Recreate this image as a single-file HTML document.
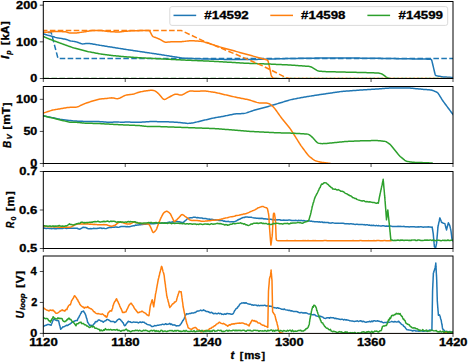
<!DOCTYPE html>
<html><head><meta charset="utf-8"><style>
html,body{margin:0;padding:0;background:#fff;overflow:hidden;}
svg{display:block;}
text{font-family:"Liberation Sans",sans-serif;font-weight:bold;fill:#000;stroke:#000;stroke-width:0.3;}
</style></head><body>
<svg width="468" height="362" viewBox="0 0 468 362">
<rect width="468" height="362" fill="#fff"/>
<defs>
<clipPath id="c0"><rect x="43.3" y="1.5" width="409.7" height="77"/></clipPath>
<clipPath id="c1"><rect x="43.3" y="86.5" width="409.7" height="77"/></clipPath>
<clipPath id="c2"><rect x="43.3" y="171.5" width="409.7" height="77"/></clipPath>
<clipPath id="c3"><rect x="43.3" y="256" width="409.7" height="77.4"/></clipPath>
</defs>
<g clip-path="url(#c0)">
<polyline points="43.5,78.5 453,78.5" fill="none" stroke="#2ca02c" stroke-width="1.5" stroke-linejoin="round" stroke-linecap="butt" stroke-dasharray="5.55 2.4" stroke-dashoffset="0"/>
<polyline points="43.5,32.6 51.2,32.6 58,58.4 453,58.4" fill="none" stroke="#1f77b4" stroke-width="1.5" stroke-linejoin="round" stroke-linecap="butt" stroke-dasharray="5.55 2.4" stroke-dashoffset="3.65"/>
<polyline points="43.5,34 44.43,34.28 45.3,34.55 46.2,34.82 47.12,35.08 48.06,35.3 49.01,35.5 49.97,35.7 50.91,35.91 51.81,36.16 52.67,36.45 53.53,36.75 54.39,37.05 55.29,37.35 56.22,37.63 57.16,37.84 58.09,37.99 59.02,38.12 59.95,38.25 60.87,38.38 61.8,38.52 62.71,38.7 63.62,38.9 64.53,39.1 65.44,39.31 66.34,39.56 67.24,39.84 68.13,40.13 69.02,40.42 69.91,40.7 70.81,40.95 71.73,41.12 72.65,41.25 73.58,41.38 74.51,41.51 75.43,41.66 76.36,41.89 77.27,42.19 78.19,42.52 79.1,42.85 80.01,43.18 80.93,43.5 81.85,43.78 82.8,43.9 83.78,43.84 84.76,43.73 85.75,43.62 86.73,43.52 87.72,43.42 88.7,43.39 89.68,43.48 90.67,43.65 91.65,43.82 92.63,44 93.61,44.17 94.6,44.34 95.58,44.52 96.56,44.69 97.54,44.87 98.53,45.04 99.51,45.21 100.49,45.38 101.48,45.54 102.46,45.69 103.45,45.85 104.43,46.01 105.42,46.17 106.4,46.33 107.38,46.48 108.37,46.64 109.35,46.8 110.34,46.96 111.32,47.11 112.31,47.27 113.29,47.43 114.28,47.59 115.26,47.74 116.25,47.9 117.23,48.06 118.22,48.22 119.2,48.38 120.18,48.53 121.17,48.69 122.15,48.85 123.14,49.01 124.12,49.16 125.11,49.32 126.09,49.47 127.07,49.62 128.06,49.76 129.04,49.91 130.02,50.06 131.01,50.2 131.99,50.35 132.97,50.49 133.95,50.64 134.94,50.78 135.92,50.93 136.9,51.08 137.89,51.22 138.87,51.37 139.85,51.51 140.83,51.66 141.82,51.8 142.8,51.95 143.78,52.1 144.77,52.24 145.75,52.39 146.73,52.53 147.71,52.68 148.7,52.82 149.68,52.97 150.66,53.12 151.65,53.26 152.63,53.41 153.61,53.55 154.59,53.7 155.58,53.84 156.56,53.99 157.54,54.14 158.53,54.28 159.51,54.43 160.49,54.58 161.47,54.74 162.45,54.89 163.43,55.05 164.4,55.21 165.38,55.37 166.36,55.52 167.34,55.68 168.32,55.84 169.3,56 170.28,56.15 171.26,56.31 172.23,56.47 173.21,56.63 174.19,56.78 175.17,56.94 176.15,57.1 177.13,57.26 178.11,57.41 179.09,57.57 180.06,57.73 181.04,57.89 182.02,58.04 183,58.16 183.98,58.23 184.96,58.27 185.93,58.31 186.91,58.34 187.89,58.38 188.87,58.41 189.84,58.45 190.82,58.48 191.8,58.52 192.78,58.56 193.76,58.59 194.73,58.63 195.71,58.66 196.69,58.7 197.67,58.73 198.64,58.77 199.62,58.8 200.6,58.84 201.58,58.88 202.56,58.91 203.53,58.95 204.51,58.98 205.49,59.01 206.46,59.03 207.44,59.05 208.41,59.07 209.39,59.09 210.37,59.11 211.34,59.13 212.32,59.15 213.29,59.17 214.27,59.19 215.24,59.2 216.22,59.22 217.2,59.24 218.17,59.26 219.15,59.28 220.12,59.3 221.1,59.32 222.07,59.34 223.05,59.36 224.02,59.38 225,59.4 225.98,59.41 226.96,59.42 227.94,59.42 228.92,59.43 229.9,59.44 230.88,59.45 231.86,59.45 232.84,59.46 233.82,59.47 234.8,59.48 235.78,59.49 236.76,59.49 237.75,59.5 238.73,59.51 239.71,59.52 240.69,59.53 241.67,59.53 242.65,59.54 243.63,59.55 244.61,59.56 245.59,59.56 246.57,59.57 247.55,59.58 248.53,59.59 249.51,59.59 250.49,59.58 251.46,59.56 252.43,59.53 253.41,59.51 254.38,59.48 255.35,59.45 256.32,59.42 257.3,59.4 258.27,59.37 259.24,59.34 260.22,59.32 261.19,59.29 262.16,59.26 263.14,59.24 264.11,59.21 265.08,59.18 266.05,59.15 267.03,59.13 268,59.1 268.98,59.07 269.96,59.05 270.93,59.02 271.91,58.99 272.89,58.97 273.87,58.94 274.84,58.91 275.82,58.89 276.8,58.86 277.78,58.83 278.76,58.81 279.73,58.78 280.71,58.75 281.69,58.73 282.67,58.7 283.64,58.67 284.62,58.65 285.6,58.62 286.58,58.59 287.56,58.57 288.53,58.54 289.51,58.51 290.49,58.49 291.48,58.48 292.47,58.46 293.46,58.45 294.44,58.43 295.43,58.42 296.42,58.4 297.41,58.39 298.4,58.37 299.38,58.36 300.37,58.34 301.36,58.33 302.35,58.31 303.33,58.3 304.32,58.29 305.31,58.27 306.3,58.26 307.28,58.24 308.27,58.23 309.26,58.21 310.25,58.2 311.23,58.18 312.22,58.17 313.21,58.15 314.2,58.14 315.19,58.12 316.17,58.11 317.16,58.09 318.15,58.08 319.14,58.06 320.12,58.05 321.11,58.03 322.1,58.02 323.09,58 324.07,57.99 325.06,57.97 326.05,57.96 327.04,57.94 328.02,57.93 329.01,57.92 330,57.91 330.99,57.91 331.98,57.91 332.96,57.92 333.95,57.93 334.94,57.94 335.93,57.94 336.91,57.95 337.9,57.96 338.89,57.97 339.88,57.97 340.86,57.98 341.85,57.99 342.84,58 343.83,58 344.81,58.01 345.8,58.02 346.79,58.03 347.78,58.03 348.77,58.04 349.75,58.05 350.74,58.06 351.73,58.06 352.72,58.07 353.7,58.08 354.69,58.09 355.68,58.09 356.67,58.1 357.65,58.11 358.64,58.11 359.63,58.12 360.62,58.13 361.6,58.14 362.59,58.14 363.58,58.15 364.57,58.16 365.56,58.17 366.54,58.17 367.53,58.18 368.52,58.19 369.51,58.2 370.5,58.21 371.49,58.22 372.48,58.24 373.47,58.26 374.46,58.27 375.46,58.29 376.45,58.3 377.44,58.32 378.43,58.34 379.42,58.35 380.42,58.37 381.41,58.39 382.4,58.4 383.39,58.42 384.38,58.43 385.38,58.45 386.37,58.47 387.36,58.48 388.35,58.5 389.34,58.51 390.33,58.53 391.33,58.55 392.32,58.56 393.31,58.58 394.3,58.6 395.29,58.61 396.29,58.63 397.28,58.64 398.27,58.66 399.26,58.68 400.25,58.69 401.25,58.71 402.24,58.72 403.23,58.74 404.22,58.76 405.21,58.77 406.21,58.79 407.2,58.8 408.19,58.82 409.18,58.84 410.17,58.85 411.17,58.87 412.16,58.89 413.15,58.9 414.14,58.92 415.13,58.93 416.13,58.95 417.12,58.97 418.11,58.98 419.1,59 420.09,59.01 421.08,59.03 422.08,59.05 423.07,59.06 424.06,59.08 425.05,59.1 426.04,59.11 427.04,59.13 428.03,59.14 429.02,59.16 430.01,59.18 430.91,59.3 431.53,59.79 431.84,60.65 432.07,61.61 432.3,62.58 432.53,63.54 432.76,64.51 432.99,65.47 433.22,66.44 433.45,67.4 433.68,68.36 433.91,69.33 434.14,70.29 434.37,71.26 434.6,72.22 434.83,73.19 435.06,74.15 435.37,75.02 435.96,75.59 436.83,75.84 437.78,76.01 438.73,76.17 439.68,76.33 440.63,76.49 441.58,76.66 442.53,76.81 443.48,76.92 444.43,76.99 445.38,77.04 446.33,77.1 447.29,77.16 448.24,77.21 449.19,77.27 450.14,77.33 451.1,77.39 452.02,77.44 453,77.5" fill="none" stroke="#1f77b4" stroke-width="1.5" stroke-linejoin="round" stroke-linecap="square"/>
<polyline points="43.5,32.4 44.46,32.33 45.37,32.27 46.3,32.2 47.23,32.13 48.17,32.07 49.1,32 50.04,31.93 50.98,31.85 51.93,31.77 52.89,31.68 53.84,31.59 54.8,31.53 55.77,31.52 56.73,31.53 57.7,31.55 58.66,31.57 59.63,31.59 60.59,31.6 61.56,31.62 62.52,31.64 63.49,31.66 64.45,31.68 65.41,31.73 66.33,31.9 67.21,32.19 68.09,32.51 68.97,32.8 69.9,32.96 70.86,33 71.83,33 72.8,33 73.77,33 74.74,33 75.71,32.98 76.69,32.91 77.66,32.78 78.63,32.64 79.6,32.5 80.58,32.37 81.56,32.25 82.55,32.12 83.53,31.99 84.5,31.86 85.45,31.7 86.38,31.52 87.31,31.34 88.23,31.15 89.15,30.97 90.08,30.79 91.01,30.65 91.95,30.58 92.89,30.56 93.84,30.54 94.79,30.52 95.74,30.49 96.68,30.47 97.63,30.45 98.58,30.43 99.52,30.43 100.46,30.48 101.38,30.59 102.31,30.71 103.23,30.83 104.15,30.95 105.08,31.08 106,31.19 106.92,31.29 107.85,31.38 108.77,31.48 109.69,31.57 110.62,31.66 111.54,31.75 112.47,31.81 113.4,31.84 114.33,31.87 115.27,31.89 116.2,31.92 117.13,31.95 118.07,31.97 119,31.96 119.92,31.89 120.85,31.78 121.77,31.68 122.69,31.57 123.62,31.46 124.54,31.36 125.47,31.27 126.4,31.2 127.33,31.13 128.27,31.07 129.2,31 130.13,30.93 131.07,30.87 132.02,30.81 133,30.78 133.99,30.75 134.98,30.73 135.98,30.71 136.97,30.69 137.97,30.66 138.96,30.64 139.95,30.62 140.95,30.59 141.94,30.57 142.94,30.55 143.93,30.53 144.93,30.5 145.92,30.48 146.91,30.46 147.91,30.44 148.84,30.52 149.57,30.94 150.08,31.71 150.54,32.58 151,33.45 151.46,34.32 151.92,35.19 152.42,36 153.07,36.58 153.87,36.93 154.71,37.22 155.56,37.51 156.42,37.83 157.3,38.2 158.2,38.6 159.1,39 159.98,39.43 160.83,39.89 161.67,40.37 162.5,40.85 163.33,41.33 164.17,41.8 165.04,42.13 165.98,42.21 166.95,42.15 167.93,42.08 168.9,42 169.88,41.93 170.85,41.85 171.82,41.78 172.8,41.73 173.76,41.73 174.72,41.75 175.68,41.78 176.64,41.81 177.6,41.83 178.56,41.86 179.52,41.87 180.49,41.82 181.47,41.72 182.45,41.6 183.44,41.49 184.42,41.37 185.4,41.25 186.38,41.13 187.36,41.01 188.35,40.9 189.33,40.78 190.31,40.68 191.28,40.65 192.24,40.7 193.2,40.77 194.15,40.83 195.11,40.9 196.07,40.97 197.03,41.03 197.99,41.1 198.95,41.17 199.9,41.23 200.86,41.3 201.82,41.39 202.77,41.57 203.72,41.84 204.67,42.14 205.62,42.43 206.56,42.73 207.51,43.02 208.46,43.32 209.41,43.61 210.35,43.91 211.29,44.2 212.21,44.49 213.13,44.79 214.05,45.08 214.96,45.38 215.88,45.67 216.79,45.97 217.71,46.26 218.63,46.56 219.55,46.85 220.48,47.13 221.44,47.4 222.4,47.66 223.35,47.92 224.31,48.19 225.27,48.45 226.23,48.72 227.19,48.98 228.14,49.24 229.1,49.51 230.06,49.77 231.02,50.04 231.98,50.3 232.93,50.56 233.89,50.83 234.85,51.09 235.81,51.36 236.77,51.62 237.72,51.88 238.68,52.15 239.64,52.41 240.6,52.68 241.56,52.94 242.51,53.2 243.47,53.47 244.43,53.73 245.39,54 246.35,54.26 247.3,54.52 248.26,54.79 249.22,55.05 250.18,55.32 251.13,55.58 252.09,55.84 253.05,56.11 254.01,56.37 254.97,56.64 255.93,56.9 256.88,57.16 257.84,57.43 258.8,57.69 259.76,57.96 260.72,58.22 261.67,58.48 262.63,58.75 263.59,59.01 264.55,59.28 265.5,59.54 266.46,59.81 267.34,60.15 267.93,60.76 268.24,61.64 268.47,62.6 268.69,63.56 268.92,64.52 269.15,65.48 269.37,66.44 269.59,67.4 269.79,68.34 269.98,69.29 270.17,70.23 270.36,71.18 270.54,72.12 270.73,73.07 270.92,74.01 271.12,74.95 271.41,75.85 271.88,76.66 272.44,77.41 273.1,77.99 273.9,78.27 274.78,78.38 275.66,78.47 276.45,78.55 277,78.6" fill="none" stroke="#ff7f0e" stroke-width="1.5" stroke-linejoin="round" stroke-linecap="square"/>
<polyline points="43.5,36.5 44.52,36.95 45.32,37.31 46.2,37.7 47.1,38.09 47.99,38.47 48.87,38.84 49.74,39.19 50.62,39.54 51.49,39.88 52.37,40.22 53.26,40.56 54.15,40.89 55.05,41.21 55.95,41.54 56.85,41.86 57.75,42.19 58.65,42.51 59.56,42.84 60.47,43.17 61.39,43.51 62.31,43.85 63.23,44.18 64.15,44.52 65.08,44.86 66,45.19 66.91,45.52 67.82,45.85 68.74,46.17 69.65,46.5 70.56,46.82 71.48,47.15 72.39,47.47 73.32,47.77 74.26,48.05 75.22,48.31 76.17,48.57 77.13,48.83 78.09,49.09 79.04,49.34 79.99,49.59 80.94,49.83 81.88,50.07 82.82,50.31 83.76,50.54 84.71,50.78 85.65,51.01 86.59,51.24 87.53,51.47 88.48,51.68 89.44,51.87 90.4,52.06 91.36,52.24 92.32,52.43 93.28,52.61 94.24,52.8 95.2,52.98 96.16,53.16 97.12,53.35 98.08,53.53 99.04,53.71 100,53.87 100.96,54.02 101.92,54.15 102.88,54.28 103.84,54.41 104.8,54.54 105.76,54.67 106.72,54.8 107.68,54.92 108.64,55.05 109.6,55.18 110.56,55.31 111.52,55.43 112.49,55.54 113.46,55.64 114.43,55.73 115.4,55.83 116.37,55.92 117.34,56.01 118.31,56.1 119.29,56.2 120.26,56.29 121.23,56.38 122.2,56.47 123.17,56.57 124.14,56.66 125.12,56.75 126.1,56.83 127.09,56.9 128.08,56.97 129.08,57.04 130.07,57.11 131.06,57.18 132.06,57.25 133.05,57.32 134.04,57.39 135.03,57.46 136.03,57.52 137.02,57.59 138.01,57.66 139,57.73 139.99,57.79 140.97,57.85 141.95,57.9 142.93,57.95 143.9,58 144.88,58.04 145.85,58.09 146.83,58.14 147.8,58.19 148.78,58.24 149.76,58.29 150.73,58.34 151.71,58.39 152.68,58.43 153.66,58.48 154.63,58.53 155.61,58.58 156.59,58.63 157.56,58.68 158.54,58.73 159.51,58.78 160.49,58.83 161.47,58.88 162.45,58.93 163.43,58.98 164.41,59.03 165.39,59.08 166.37,59.13 167.35,59.18 168.33,59.23 169.31,59.28 170.29,59.34 171.27,59.39 172.25,59.44 173.24,59.49 174.22,59.54 175.2,59.59 176.18,59.64 177.16,59.69 178.14,59.74 179.12,59.79 180.1,59.85 181.08,59.9 182.06,59.95 183.04,60 184.02,60.05 185,60.1 185.98,60.14 186.97,60.19 187.95,60.23 188.93,60.27 189.92,60.31 190.9,60.36 191.89,60.4 192.87,60.44 193.85,60.48 194.84,60.53 195.82,60.57 196.8,60.61 197.79,60.65 198.77,60.7 199.75,60.74 200.74,60.78 201.72,60.82 202.7,60.87 203.69,60.91 204.67,60.95 205.66,61 206.64,61.04 207.62,61.08 208.61,61.12 209.59,61.17 210.57,61.21 211.56,61.25 212.54,61.29 213.52,61.34 214.51,61.38 215.49,61.43 216.48,61.49 217.46,61.55 218.44,61.61 219.43,61.67 220.41,61.72 221.39,61.78 222.38,61.84 223.36,61.9 224.34,61.96 225.33,62.02 226.31,62.08 227.3,62.14 228.28,62.2 229.26,62.26 230.25,62.31 231.23,62.37 232.21,62.43 233.2,62.49 234.18,62.55 235.16,62.61 236.15,62.67 237.13,62.73 238.11,62.79 239.1,62.85 240.08,62.9 241.07,62.96 242.05,63.02 243.03,63.08 244.02,63.14 245,63.19 245.98,63.23 246.96,63.27 247.94,63.31 248.92,63.34 249.9,63.38 250.88,63.41 251.86,63.45 252.84,63.48 253.82,63.52 254.8,63.55 255.78,63.59 256.76,63.62 257.75,63.66 258.73,63.69 259.71,63.73 260.69,63.76 261.67,63.8 262.65,63.84 263.63,63.87 264.61,63.91 265.59,63.94 266.57,63.98 267.55,64.01 268.53,64.05 269.51,64.08 270.49,64.12 271.46,64.17 272.44,64.21 273.41,64.25 274.39,64.3 275.37,64.34 276.34,64.39 277.32,64.43 278.29,64.47 279.27,64.52 280.24,64.56 281.22,64.6 282.2,64.65 283.17,64.69 284.15,64.74 285.12,64.78 286.1,64.82 287.07,64.87 288.05,64.91 289.02,64.96 290,65.01 290.98,65.07 291.95,65.14 292.93,65.21 293.9,65.29 294.88,65.36 295.86,65.43 296.83,65.5 297.81,65.57 298.79,65.64 299.76,65.71 300.74,65.79 301.71,65.86 302.69,65.93 303.67,66 304.64,66.07 305.62,66.14 306.6,66.21 307.57,66.29 308.54,66.36 309.5,66.48 310.41,66.67 311.25,66.99 312.05,67.4 312.84,67.84 313.63,68.3 314.44,68.78 315.26,69.28 316.1,69.8 316.94,70.3 317.8,70.72 318.68,71.02 319.59,71.19 320.51,71.29 321.43,71.37 322.36,71.45 323.29,71.52 324.23,71.58 325.2,71.62 326.19,71.65 327.19,71.67 328.18,71.7 329.18,71.72 330.17,71.74 331.17,71.77 332.17,71.79 333.16,71.82 334.16,71.84 335.15,71.86 336.15,71.89 337.14,71.91 338.14,71.93 339.13,71.96 340.13,71.98 341.13,72.01 342.12,72.03 343.12,72.05 344.11,72.08 345.11,72.1 346.1,72.13 347.1,72.15 348.1,72.17 349.09,72.2 350.09,72.22 351.08,72.25 352.08,72.27 353.07,72.29 354.07,72.32 355.07,72.34 356.06,72.37 357.06,72.39 358.05,72.41 359.05,72.44 360.04,72.46 361.04,72.48 362.03,72.51 363.03,72.53 364.03,72.56 365.02,72.58 366.02,72.6 367.01,72.63 368.01,72.65 369,72.68 369.97,72.71 370.93,72.74 371.88,72.77 372.82,72.81 373.76,72.84 374.71,72.88 375.65,72.91 376.58,72.95 377.51,73.01 378.42,73.1 379.31,73.23 380.18,73.39 381.02,73.61 381.82,73.93 382.56,74.35 383.29,74.84 384.02,75.37 384.78,75.95 385.55,76.54 386.36,77.09 387.22,77.56 388.1,77.96 388.98,78.28 389.85,78.51 390.72,78.67 391.61,78.79 392.53,78.86 393.5,78.89 394.48,78.9 395.47,78.91 396.46,78.91 397.46,78.91 398.45,78.91 399.44,78.91 400.43,78.91 401.42,78.92 402.41,78.92 403.41,78.92 404.4,78.92 405.39,78.92 406.38,78.92 407.37,78.93 408.37,78.93 409.36,78.93 410.35,78.93 411.34,78.93 412.33,78.93 413.33,78.93 414.32,78.94 415.31,78.94 416.3,78.94 417.29,78.94 418.28,78.94 419.28,78.94 420.27,78.95 421.26,78.95 422.25,78.95 423.24,78.95 424.24,78.95 425.23,78.95 426.22,78.96 427.21,78.96 428.2,78.96 429.2,78.96 430.19,78.96 431.18,78.96 432.17,78.97 433.16,78.97 434.15,78.97 435.15,78.97 436.14,78.97 437.13,78.97 438.12,78.98 439.11,78.98 440.11,78.98 441.1,78.98 442.09,78.98 443.08,78.98 444.07,78.99 445.07,78.99 446.06,78.99 447.05,78.99 448.04,78.99 449.03,78.99 450.02,79 451,79 451.88,79 453,79" fill="none" stroke="#2ca02c" stroke-width="1.5" stroke-linejoin="round" stroke-linecap="square"/>
<polyline points="43.5,30.6 181.5,30.6 190,34.6 202.3,40.4 237,54.8 262.7,65.9 286,77.6 290,78.5 453,78.5" fill="none" stroke="#ff7f0e" stroke-width="1.5" stroke-linejoin="round" stroke-linecap="butt" stroke-dasharray="5.55 2.4" stroke-dashoffset="1.6"/>
</g>
<g clip-path="url(#c1)">
<polyline points="43.5,116 44.6,116.2 45.48,116.36 46.44,116.54 47.42,116.72 48.39,116.89 49.37,117.07 50.35,117.25 51.33,117.43 52.31,117.62 53.28,117.81 54.24,118.02 55.21,118.23 56.17,118.44 57.13,118.66 58.09,118.87 59.06,119.08 60.02,119.27 61,119.43 61.98,119.57 62.96,119.69 63.95,119.8 64.93,119.92 65.92,120.03 66.9,120.15 67.88,120.27 68.87,120.38 69.85,120.5 70.84,120.61 71.82,120.72 72.8,120.83 73.78,120.91 74.75,120.97 75.72,121.02 76.68,121.08 77.65,121.13 78.62,121.18 79.58,121.23 80.55,121.27 81.52,121.33 82.48,121.37 83.45,121.42 84.42,121.46 85.39,121.49 86.36,121.51 87.34,121.52 88.31,121.52 89.28,121.53 90.26,121.54 91.23,121.54 92.21,121.55 93.18,121.55 94.15,121.56 95.13,121.57 96.1,121.57 97.08,121.58 98.05,121.59 99.03,121.6 100,121.63 100.98,121.69 101.96,121.75 102.94,121.83 103.92,121.9 104.9,121.98 105.89,122.06 106.87,122.13 107.85,122.21 108.83,122.28 109.81,122.32 110.79,122.31 111.78,122.25 112.76,122.17 113.75,122.08 114.73,121.99 115.71,121.92 116.67,121.89 117.62,121.94 118.55,122.02 119.48,122.13 120.41,122.22 121.34,122.29 122.26,122.29 123.19,122.22 124.12,122.13 125.05,122.02 125.98,121.94 126.93,121.89 127.89,121.92 128.87,121.99 129.85,122.08 130.84,122.17 131.82,122.25 132.8,122.32 133.76,122.35 134.72,122.35 135.67,122.32 136.62,122.29 137.56,122.26 138.51,122.23 139.46,122.19 140.41,122.16 141.35,122.13 142.3,122.09 143.25,122.03 144.19,121.97 145.14,121.91 146.09,121.85 147.04,121.78 147.98,121.72 148.93,121.66 149.88,121.6 150.83,121.55 151.79,121.53 152.75,121.54 153.72,121.56 154.68,121.58 155.65,121.6 156.62,121.62 157.58,121.64 158.55,121.67 159.52,121.69 160.5,121.71 161.49,121.73 162.48,121.75 163.47,121.77 164.46,121.79 165.45,121.8 166.44,121.82 167.43,121.84 168.42,121.86 169.41,121.89 170.39,121.92 171.37,121.97 172.34,122.03 173.31,122.1 174.29,122.17 175.26,122.23 176.23,122.3 177.2,122.37 178.17,122.43 179.14,122.5 180.11,122.58 181.08,122.67 182.04,122.77 183.01,122.88 183.97,122.99 184.93,123.11 185.89,123.22 186.86,123.32 187.81,123.38 188.77,123.37 189.72,123.3 190.66,123.18 191.61,123.05 192.55,122.91 193.49,122.75 194.42,122.56 195.35,122.34 196.28,122.12 197.21,121.89 198.14,121.66 199.06,121.44 199.99,121.21 200.92,120.98 201.85,120.75 202.77,120.53 203.71,120.3 204.64,120.08 205.58,119.87 206.53,119.65 207.47,119.43 208.41,119.22 209.35,119 210.29,118.78 211.23,118.57 212.18,118.35 213.12,118.13 214.06,117.92 215.02,117.73 215.98,117.54 216.95,117.38 217.93,117.21 218.9,117.05 219.87,116.89 220.85,116.72 221.82,116.56 222.79,116.39 223.74,116.2 224.7,116.01 225.64,115.82 226.59,115.63 227.54,115.44 228.49,115.24 229.44,115.05 230.39,114.86 231.33,114.67 232.28,114.47 233.23,114.28 234.18,114.1 235.13,113.94 236.07,113.83 237.02,113.76 237.97,113.72 238.92,113.69 239.86,113.66 240.81,113.63 241.76,113.59 242.71,113.56 243.65,113.49 244.59,113.37 245.53,113.14 246.47,112.86 247.41,112.55 248.35,112.23 249.28,111.91 250.22,111.59 251.15,111.27 252.09,110.95 253.03,110.64 253.97,110.33 254.91,110.03 255.87,109.76 256.82,109.51 257.79,109.26 258.75,109.01 259.71,108.76 260.67,108.51 261.63,108.27 262.6,108.02 263.56,107.77 264.52,107.51 265.47,107.25 266.42,106.98 267.37,106.7 268.32,106.41 269.27,106.13 270.21,105.85 271.16,105.57 272.11,105.29 273.06,105.01 274.01,104.73 274.96,104.44 275.9,104.16 276.85,103.88 277.8,103.6 278.75,103.31 279.7,103.02 280.64,102.73 281.59,102.44 282.54,102.16 283.49,101.87 284.44,101.58 285.39,101.29 286.33,101 287.28,100.71 288.23,100.42 289.18,100.14 290.13,99.87 291.08,99.63 292.03,99.43 292.99,99.24 293.94,99.05 294.9,98.87 295.86,98.68 296.81,98.5 297.77,98.31 298.72,98.13 299.68,97.94 300.63,97.76 301.59,97.57 302.55,97.39 303.51,97.22 304.47,97.05 305.44,96.89 306.41,96.74 307.38,96.59 308.35,96.44 309.32,96.28 310.29,96.13 311.26,95.98 312.24,95.82 313.21,95.67 314.18,95.52 315.15,95.36 316.12,95.21 317.09,95.06 318.06,94.91 319.03,94.75 320,94.6 320.98,94.46 321.96,94.31 322.94,94.17 323.92,94.03 324.9,93.89 325.89,93.74 326.87,93.6 327.85,93.46 328.83,93.31 329.8,93.17 330.77,93.03 331.74,92.89 332.7,92.75 333.65,92.6 334.61,92.46 335.57,92.32 336.53,92.18 337.49,92.04 338.45,91.9 339.4,91.75 340.36,91.62 341.32,91.49 342.29,91.38 343.26,91.3 344.23,91.23 345.2,91.16 346.18,91.09 347.15,91.02 348.12,90.95 349.09,90.88 350.07,90.81 351.04,90.74 352.01,90.68 352.98,90.61 353.96,90.54 354.93,90.47 355.91,90.4 356.89,90.33 357.87,90.26 358.85,90.19 359.84,90.12 360.82,90.05 361.81,89.98 362.79,89.92 363.78,89.85 364.76,89.78 365.75,89.71 366.73,89.64 367.72,89.57 368.7,89.5 369.68,89.44 370.67,89.38 371.65,89.32 372.63,89.26 373.61,89.2 374.6,89.13 375.58,89.07 376.56,89.01 377.54,88.95 378.53,88.89 379.51,88.82 380.49,88.75 381.46,88.68 382.44,88.59 383.42,88.51 384.39,88.43 385.37,88.35 386.35,88.27 387.33,88.19 388.31,88.13 389.29,88.1 390.28,88.08 391.27,88.07 392.26,88.06 393.25,88.05 394.24,88.04 395.23,88.03 396.22,88.02 397.21,88.01 398.2,88 399.19,87.99 400.18,87.98 401.17,87.97 402.16,87.96 403.15,87.95 404.14,87.94 405.13,87.93 406.12,87.92 407.11,87.92 408.09,87.95 409.07,88.01 410.04,88.09 411.01,88.18 411.98,88.28 412.94,88.37 413.91,88.46 414.88,88.56 415.85,88.65 416.82,88.74 417.79,88.84 418.76,88.93 419.73,89.03 420.69,89.12 421.66,89.21 422.63,89.3 423.59,89.39 424.54,89.47 425.48,89.54 426.42,89.61 427.36,89.68 428.31,89.75 429.25,89.83 430.18,89.91 431.11,90.04 432.02,90.25 432.9,90.55 433.78,90.89 434.65,91.25 435.52,91.61 436.37,91.99 437.17,92.45 437.87,93.05 438.45,93.79 438.99,94.61 439.51,95.45 440.02,96.29 440.54,97.13 441.05,97.97 441.57,98.81 442.09,99.65 442.64,100.48 443.2,101.29 443.79,102.1 444.38,102.9 444.98,103.7 445.57,104.5 446.17,105.3 446.76,106.1 447.35,106.9 447.95,107.7 448.54,108.5 449.14,109.3 449.73,110.1 450.33,110.9 450.92,111.7 451.51,112.5 452.08,113.26 452.55,113.89 453,114.5" fill="none" stroke="#1f77b4" stroke-width="1.5" stroke-linejoin="round" stroke-linecap="square"/>
<polyline points="43.5,113 44.66,112.63 45.43,112.38 46.3,112.1 47.22,111.8 48.15,111.5 49.08,111.2 50.01,110.9 50.94,110.61 51.87,110.34 52.81,110.09 53.75,109.88 54.7,109.69 55.64,109.53 56.59,109.37 57.54,109.21 58.48,109.05 59.43,108.89 60.38,108.74 61.34,108.57 62.31,108.41 63.28,108.24 64.26,108.08 65.25,107.91 66.23,107.75 67.21,107.61 68.18,107.49 69.14,107.42 70.09,107.37 71.04,107.34 71.99,107.32 72.94,107.29 73.88,107.27 74.83,107.24 75.77,107.17 76.69,107.04 77.59,106.82 78.47,106.5 79.33,106.12 80.19,105.7 81.04,105.28 81.9,104.86 82.76,104.46 83.63,104.08 84.52,103.72 85.42,103.4 86.32,103.08 87.22,102.78 88.13,102.47 89.04,102.17 89.94,101.86 90.85,101.57 91.75,101.28 92.66,101 93.56,100.72 94.47,100.45 95.38,100.18 96.28,99.91 97.19,99.66 98.11,99.42 99.05,99.22 100.01,99.07 100.98,98.95 101.96,98.86 102.95,98.78 103.93,98.7 104.92,98.61 105.9,98.51 106.88,98.4 107.85,98.27 108.82,98.12 109.78,97.99 110.75,97.88 111.72,97.84 112.68,97.89 113.65,98.03 114.62,98.24 115.58,98.45 116.53,98.63 117.47,98.69 118.37,98.58 119.25,98.32 120.11,97.94 120.95,97.5 121.8,97.05 122.65,96.6 123.49,96.15 124.35,95.73 125.23,95.37 126.13,95.1 127.06,94.9 128.01,94.76 128.97,94.65 129.93,94.55 130.89,94.44 131.84,94.32 132.78,94.16 133.69,93.95 134.59,93.69 135.46,93.4 136.33,93.09 137.21,92.79 138.09,92.51 138.99,92.25 139.9,92.02 140.82,91.81 141.75,91.61 142.68,91.42 143.62,91.24 144.57,91.08 145.53,90.93 146.49,90.79 147.45,90.65 148.41,90.52 149.37,90.39 150.33,90.3 151.28,90.27 152.21,90.3 153.13,90.41 154.03,90.6 154.88,90.91 155.68,91.34 156.44,91.87 157.18,92.47 157.89,93.1 158.59,93.75 159.27,94.45 159.92,95.18 160.56,95.94 161.19,96.71 161.81,97.48 162.45,98.22 163.09,98.86 163.78,99.29 164.52,99.43 165.31,99.27 166.13,98.91 166.98,98.44 167.83,97.95 168.68,97.46 169.53,96.98 170.38,96.5 171.23,96.03 172.09,95.57 172.94,95.11 173.8,94.69 174.66,94.35 175.52,94.17 176.4,94.16 177.29,94.31 178.18,94.54 179.07,94.78 179.95,94.98 180.83,95.06 181.69,94.96 182.54,94.69 183.37,94.3 184.2,93.85 185.04,93.39 185.87,92.92 186.7,92.45 187.53,91.99 188.37,91.58 189.24,91.26 190.14,91.06 191.06,90.99 192.01,91.01 192.97,91.07 193.93,91.14 194.89,91.21 195.86,91.26 196.83,91.29 197.8,91.29 198.78,91.24 199.76,91.16 200.75,91.08 201.73,91 202.71,90.95 203.7,90.95 204.68,91 205.67,91.1 206.65,91.22 207.63,91.36 208.61,91.5 209.6,91.63 210.58,91.77 211.56,91.91 212.54,92.05 213.52,92.2 214.48,92.36 215.43,92.54 216.37,92.73 217.29,92.93 218.21,93.14 219.13,93.35 220.05,93.56 220.97,93.78 221.89,93.99 222.82,94.21 223.76,94.42 224.7,94.65 225.64,94.87 226.59,95.09 227.54,95.31 228.49,95.53 229.44,95.76 230.39,95.98 231.33,96.2 232.28,96.42 233.23,96.64 234.18,96.86 235.13,97.07 236.08,97.28 237.03,97.47 237.99,97.66 238.94,97.85 239.9,98.03 240.86,98.22 241.81,98.4 242.77,98.59 243.72,98.77 244.68,98.96 245.63,99.15 246.59,99.34 247.54,99.54 248.48,99.77 249.42,100.03 250.35,100.31 251.28,100.6 252.21,100.9 253.14,101.2 254.06,101.5 254.99,101.8 255.92,102.1 256.85,102.38 257.78,102.63 258.72,102.81 259.67,102.93 260.63,102.98 261.59,103 262.55,103 263.51,103 264.47,103.01 265.44,103.02 266.39,103.07 267.33,103.17 268.23,103.38 269.08,103.71 269.88,104.17 270.65,104.72 271.4,105.3 272.14,105.91 272.86,106.53 273.56,107.18 274.21,107.89 274.83,108.64 275.42,109.43 276,110.23 276.57,111.03 277.14,111.84 277.71,112.65 278.28,113.46 278.85,114.26 279.42,115.07 279.99,115.88 280.56,116.68 281.14,117.48 281.73,118.27 282.32,119.04 282.93,119.8 283.54,120.55 284.16,121.31 284.77,122.06 285.38,122.81 286,123.56 286.61,124.31 287.22,125.07 287.84,125.82 288.45,126.57 289.06,127.32 289.67,128.09 290.26,128.86 290.83,129.66 291.38,130.47 291.92,131.31 292.45,132.14 292.98,132.98 293.51,133.83 294.03,134.67 294.56,135.51 295.09,136.35 295.62,137.19 296.15,138.03 296.67,138.87 297.2,139.71 297.73,140.55 298.26,141.39 298.79,142.24 299.32,143.08 299.85,143.91 300.39,144.75 300.94,145.57 301.51,146.38 302.09,147.18 302.68,147.98 303.27,148.77 303.86,149.56 304.45,150.35 305.05,151.15 305.64,151.94 306.23,152.73 306.83,153.52 307.43,154.3 308.05,155.05 308.7,155.76 309.39,156.42 310.12,157.04 310.86,157.63 311.61,158.21 312.37,158.78 313.12,159.35 313.89,159.88 314.69,160.36 315.52,160.76 316.39,161.07 317.29,161.32 318.2,161.55 319.12,161.76 320.03,161.96 320.96,162.15 321.89,162.31 322.84,162.45 323.79,162.57 324.74,162.69 325.7,162.8 326.65,162.91 327.58,163.02 328.43,163.12 329.13,163.2 330,163.3" fill="none" stroke="#ff7f0e" stroke-width="1.5" stroke-linejoin="round" stroke-linecap="square"/>
<polyline points="43.5,115.8 44.55,116.06 45.38,116.26 46.29,116.49 47.22,116.72 48.15,116.95 49.08,117.18 50.01,117.41 50.94,117.64 51.87,117.87 52.81,118.1 53.75,118.33 54.7,118.56 55.64,118.79 56.59,119.03 57.54,119.26 58.48,119.49 59.43,119.72 60.38,119.95 61.33,120.19 62.29,120.42 63.24,120.66 64.21,120.89 65.17,121.13 66.13,121.37 67.09,121.6 68.06,121.83 69.01,122.02 69.97,122.15 70.92,122.22 71.87,122.25 72.82,122.27 73.76,122.29 74.71,122.32 75.66,122.34 76.6,122.36 77.55,122.39 78.49,122.45 79.42,122.54 80.35,122.66 81.28,122.78 82.21,122.9 83.15,123.01 84.11,123.09 85.09,123.14 86.09,123.18 87.08,123.21 88.07,123.24 89.07,123.27 90.06,123.3 91.05,123.33 92.05,123.36 93.04,123.39 94.04,123.42 95.03,123.45 96.02,123.48 97.02,123.51 98.01,123.54 99,123.57 100,123.61 100.98,123.66 101.97,123.71 102.95,123.77 103.94,123.83 104.92,123.88 105.91,123.94 106.89,123.99 107.88,124.05 108.86,124.11 109.85,124.16 110.83,124.22 111.82,124.28 112.8,124.33 113.78,124.39 114.77,124.45 115.75,124.5 116.74,124.56 117.72,124.61 118.71,124.67 119.7,124.72 120.68,124.76 121.67,124.8 122.66,124.84 123.65,124.88 124.64,124.93 125.63,124.97 126.62,125.01 127.61,125.05 128.6,125.09 129.59,125.13 130.58,125.17 131.57,125.21 132.56,125.25 133.55,125.29 134.54,125.34 135.53,125.38 136.52,125.42 137.51,125.47 138.49,125.53 139.46,125.62 140.42,125.73 141.39,125.84 142.35,125.95 143.31,126.06 144.28,126.17 145.24,126.27 146.21,126.35 147.19,126.4 148.17,126.43 149.16,126.44 150.14,126.46 151.13,126.47 152.11,126.49 153.1,126.5 154.09,126.51 155.07,126.53 156.06,126.54 157.04,126.56 158.03,126.57 159.01,126.59 160,126.61 160.99,126.64 161.98,126.67 162.97,126.71 163.96,126.74 164.95,126.78 165.95,126.82 166.94,126.85 167.93,126.89 168.92,126.92 169.91,126.96 170.9,127 171.89,127.03 172.88,127.07 173.87,127.1 174.86,127.14 175.86,127.18 176.85,127.21 177.84,127.25 178.83,127.28 179.82,127.32 180.81,127.36 181.8,127.39 182.79,127.43 183.78,127.46 184.77,127.5 185.77,127.54 186.76,127.57 187.75,127.61 188.74,127.65 189.73,127.68 190.72,127.72 191.71,127.75 192.7,127.79 193.69,127.83 194.68,127.86 195.68,127.9 196.67,127.93 197.66,127.97 198.65,128.01 199.64,128.04 200.63,128.08 201.62,128.11 202.61,128.15 203.6,128.19 204.59,128.22 205.59,128.26 206.58,128.29 207.57,128.33 208.56,128.37 209.55,128.4 210.54,128.44 211.53,128.47 212.52,128.51 213.51,128.55 214.5,128.59 215.49,128.65 216.47,128.72 217.45,128.79 218.43,128.87 219.41,128.94 220.39,129.02 221.37,129.09 222.34,129.17 223.32,129.24 224.3,129.32 225.28,129.4 226.26,129.47 227.24,129.55 228.22,129.62 229.2,129.7 230.19,129.78 231.18,129.86 232.17,129.95 233.16,130.03 234.15,130.11 235.14,130.19 236.13,130.27 237.12,130.36 238.11,130.44 239.1,130.52 240.09,130.6 241.08,130.68 242.07,130.77 243.06,130.85 244.05,130.93 245.04,131.01 246.03,131.09 247.01,131.18 248,131.25 248.98,131.32 249.95,131.38 250.93,131.43 251.9,131.49 252.87,131.54 253.84,131.59 254.81,131.64 255.78,131.7 256.75,131.75 257.72,131.8 258.69,131.86 259.66,131.91 260.63,131.96 261.6,132.01 262.57,132.07 263.54,132.12 264.52,132.17 265.5,132.22 266.48,132.27 267.46,132.32 268.45,132.36 269.43,132.41 270.42,132.45 271.4,132.5 272.38,132.55 273.37,132.59 274.35,132.64 275.34,132.68 276.32,132.73 277.31,132.77 278.29,132.81 279.28,132.83 280.26,132.86 281.25,132.88 282.23,132.9 283.22,132.93 284.2,132.95 285.18,132.97 286.17,133 287.15,133.02 288.14,133.04 289.12,133.07 290.1,133.1 291.08,133.14 292.06,133.18 293.03,133.24 294.01,133.29 294.98,133.34 295.95,133.4 296.92,133.45 297.9,133.51 298.87,133.56 299.84,133.61 300.82,133.67 301.79,133.72 302.76,133.78 303.74,133.83 304.71,133.88 305.68,133.94 306.65,134 307.6,134.12 308.5,134.37 309.33,134.82 310.12,135.39 310.88,136.02 311.63,136.67 312.35,137.34 313.04,138.04 313.7,138.75 314.35,139.48 315,140.2 315.65,140.92 316.31,141.64 316.99,142.3 317.74,142.83 318.59,143.18 319.51,143.38 320.45,143.53 321.38,143.61 322.3,143.64 323.22,143.62 324.13,143.59 325.04,143.55 325.97,143.5 326.91,143.43 327.88,143.33 328.86,143.23 329.85,143.12 330.83,143.02 331.82,142.91 332.8,142.8 333.78,142.7 334.77,142.6 335.75,142.5 336.74,142.4 337.72,142.3 338.71,142.2 339.69,142.1 340.68,142 341.66,141.9 342.65,141.8 343.63,141.7 344.62,141.61 345.6,141.53 346.59,141.46 347.58,141.41 348.58,141.36 349.57,141.32 350.56,141.27 351.55,141.22 352.55,141.18 353.54,141.13 354.53,141.08 355.52,141.04 356.52,140.99 357.51,140.95 358.5,140.91 359.49,140.88 360.49,140.86 361.48,140.83 362.48,140.81 363.47,140.79 364.47,140.77 365.46,140.74 366.46,140.72 367.45,140.7 368.44,140.68 369.44,140.66 370.43,140.63 371.43,140.61 372.42,140.59 373.42,140.57 374.41,140.55 375.4,140.54 376.38,140.55 377.36,140.6 378.32,140.68 379.28,140.77 380.24,140.86 381.2,140.95 382.16,141.04 383.12,141.13 384.08,141.23 385.01,141.37 385.9,141.62 386.72,142.01 387.5,142.51 388.25,143.05 389,143.6 389.73,144.18 390.43,144.8 391.09,145.49 391.71,146.22 392.32,146.98 392.93,147.73 393.53,148.49 394.14,149.25 394.75,150.01 395.36,150.77 395.96,151.53 396.57,152.29 397.18,153.04 397.78,153.8 398.4,154.55 399.03,155.28 399.7,155.97 400.41,156.61 401.13,157.23 401.87,157.84 402.6,158.45 403.33,159.06 404.07,159.67 404.81,160.26 405.59,160.78 406.44,161.16 407.35,161.41 408.29,161.59 409.25,161.75 410.21,161.91 411.17,162.06 412.13,162.19 413.11,162.28 414.09,162.34 415.08,162.38 416.08,162.41 417.07,162.45 418.06,162.48 419.06,162.51 420.05,162.54 421.05,162.57 422.04,162.61 423.03,162.64 424.03,162.67 425.02,162.7 426.01,162.74 426.99,162.77 427.95,162.81 428.88,162.85 429.77,162.89 430.62,162.93 431.32,162.97 432,163" fill="none" stroke="#2ca02c" stroke-width="1.5" stroke-linejoin="round" stroke-linecap="square"/>
</g>
<g clip-path="url(#c2)">
<polyline points="43.5,228.1 44.53,227.97 45.57,228.38 46.6,228.4 47.63,228.2 48.67,228.38 49.7,228.41 50.73,228.56 51.77,228.69 52.8,228.4 53.78,228.34 54.77,228.72 55.75,228.5 56.74,228.64 57.72,228.24 58.71,228.43 59.69,228.55 60.68,228.28 61.66,228.61 62.65,228.57 63.63,228.11 64.62,228.09 65.6,228.32 66.57,228.52 67.53,228.24 68.5,228.16 69.47,228.26 70.43,228.06 71.4,228.16 72.37,228.27 73.33,228.3 74.3,228.17 75.27,228.17 76.23,228.16 77.2,228.28 78.15,228.74 79.1,229.16 80,229.11 80.9,228.51 81.8,228.09 82.7,227.4 83.6,227.35 84.62,227.6 85.64,227.55 86.66,227.98 87.68,228.49 88.7,228.81 89.73,228.86 90.75,228.55 91.78,228.7 92.81,228.57 93.84,228.33 94.86,228.42 95.89,228.51 96.92,228.44 97.95,228.21 98.97,228.2 100,227.87 101.02,228.07 102.04,228.45 103.06,228.36 104.08,228.34 105.1,228.62 106.14,228.44 107.18,228.17 108.22,227.76 109.26,227.53 110.3,227.3 111.29,227.42 112.28,227.27 113.27,227.18 114.26,227.21 115.24,226.95 116.23,226.94 117.22,227.25 118.21,227.36 119.2,227.15 120.17,226.82 121.15,226.49 122.12,226.43 123.1,226.44 124.12,226.46 125.14,226.46 126.16,226.74 127.18,226.55 128.2,226.81 129.22,226.83 130.24,226.44 131.26,226.18 132.28,225.88 133.3,225.82 134.34,225.81 135.38,225.11 136.42,225.28 137.46,225.08 138.5,224.89 139.57,224.74 140.63,224.69 141.7,224.46 142.77,224.4 143.83,224.25 144.9,223.98 145.91,224.32 146.92,224.09 147.93,223.84 148.94,223.92 149.95,223.84 150.96,223.71 151.97,223.63 152.98,223.66 153.99,223.63 155,223.56 155.98,223.41 156.97,223.13 157.95,223.16 158.94,223.06 159.92,223.2 160.91,223.27 161.89,223.16 162.88,223.09 163.86,223.04 164.85,222.69 165.83,222.91 166.82,222.76 167.8,222.39 168.87,222.24 169.93,222.12 171,222.38 172.07,222.01 173.13,221.82 174.2,221.96 175.17,221.77 176.15,221.58 177.12,221.58 178.1,221.71 179.12,221.71 180.14,221.95 181.16,222.35 182.18,222.4 183.2,222.51 183.93,221.94 184.66,221.08 185.39,220.61 186.11,219.99 186.84,219.23 187.57,218.55 188.3,218.3 189.34,217.97 190.38,217.67 191.42,217.73 192.46,217.7 193.5,217.16 194.57,217.23 195.63,217.36 196.7,217.71 197.77,217.5 198.83,217.84 199.9,217.89 200.89,217.97 201.88,217.95 202.87,218.47 203.86,218.53 204.84,218.53 205.83,218.53 206.82,218.89 207.81,218.9 208.8,219.14 209.79,219.11 210.78,219.37 211.77,219.18 212.76,219.4 213.74,219.83 214.73,219.89 215.72,219.7 216.71,220.08 217.7,219.91 218.66,220.38 219.62,220.45 220.59,220.45 221.55,220.53 222.51,220.57 223.47,221.16 224.44,220.91 225.4,221.46 226.4,221.6 227.4,221.47 228.4,221.34 229.4,221.75 230.4,221.87 231.4,221.8 232.4,221.77 233.4,221.77 234.4,221.82 235.23,221.32 236.07,221.12 236.9,220.57 237.81,219.99 238.73,219.49 239.64,219.31 240.56,218.67 241.47,218.31 242.39,217.77 243.3,217.59 244.34,217.52 245.38,217 246.42,217.01 247.46,216.99 248.5,217.24 249.46,217.28 250.43,217.19 251.39,217.27 252.35,217.64 253.31,217.86 254.27,218.04 255.24,217.88 256.2,218.29 257.15,218.27 258.1,218.24 259.05,218.57 260,218.27 260.95,218.59 261.9,218.34 262.85,218.46 263.8,218.91 264.83,218.66 265.87,219.03 266.9,219.05 267.93,219.27 268.97,219.13 270,219.22 270.99,219.28 271.97,219.66 272.96,219.61 273.94,219.87 274.93,219.92 275.91,219.63 276.9,219.93 277.89,219.73 278.87,219.73 279.86,219.77 280.84,220.2 281.83,220.19 282.81,220.24 283.8,220.02 284.79,220.19 285.77,220.3 286.76,220.12 287.74,220.25 288.73,220.1 289.71,220.06 290.7,220.18 291.71,220.52 292.72,220.39 293.73,220.59 294.74,220.39 295.75,220.32 296.75,220.61 297.76,220.65 298.77,220.27 299.78,220.63 300.79,220.37 301.8,220.41 302.77,220.86 303.74,220.51 304.71,220.68 305.68,221.12 306.65,220.91 307.62,220.83 308.59,220.92 309.56,221.03 310.53,221.35 311.5,221.1 312.48,221.59 313.45,221.41 314.43,221.8 315.4,221.85 316.38,221.63 317.35,221.7 318.32,221.9 319.3,221.8 320.28,222.16 321.25,221.94 322.23,222.02 323.2,222.59 324.18,222.34 325.15,222.57 326.12,222.59 327.1,222.61 328.1,222.53 329.11,223.01 330.11,223.08 331.12,223.13 332.12,222.76 333.13,222.86 334.13,223.11 335.14,223.34 336.14,223.17 337.15,223.29 338.15,223.33 339.15,223.18 340.16,223.37 341.16,223.3 342.17,223.32 343.17,223.29 344.18,223.44 345.18,223.84 346.19,223.62 347.19,223.78 348.2,223.82 349.2,224.02 350.21,223.81 351.22,223.84 352.23,223.92 353.24,223.98 354.25,224.31 355.25,224.41 356.26,224.18 357.27,224.26 358.28,224.44 359.29,224.52 360.3,224.6 361.31,224.49 362.32,224.45 363.33,224.63 364.34,224.61 365.35,224.92 366.35,224.74 367.36,224.81 368.37,225.16 369.38,225.06 370.39,225.38 371.4,225.3 372.42,225.54 373.43,225.23 374.45,225.46 375.46,225.66 376.48,225.36 377.49,225.85 378.51,225.51 379.52,225.87 380.54,226.03 381.55,226 382.57,225.8 383.58,225.75 384.6,226.01 385.56,226.24 386.52,225.96 387.48,226.29 388.45,225.94 389.41,226.36 390.37,225.95 391.33,226.12 392.29,226.45 393.25,226.43 394.22,226.51 395.18,226.51 396.14,226.49 397.1,226.49 398.1,226.27 399.11,226.42 400.11,226.31 401.12,226.62 402.12,226.62 403.13,226.44 404.13,226.37 405.14,226.85 406.14,226.8 407.15,226.7 408.15,226.72 409.15,226.9 410.16,226.73 411.16,226.73 412.17,226.73 413.17,226.72 414.18,226.63 415.18,226.96 416.19,226.88 417.19,226.98 418.2,226.75 419.2,226.93 420.2,226.83 421.2,226.83 422.2,226.9 423.2,227.2 424.2,226.99 425.2,227 426.2,227.11 427.2,226.93 428.2,226.82 429.2,227.09 430.2,227.09 431.2,227.17 432.2,227.07 432.36,228.22 432.51,229.27 432.67,230.05 432.83,231.21 432.99,232.23 433.14,233.13 433.3,234.26 433.39,235.35 433.48,236.54 433.57,237.56 433.67,238.25 433.76,239.46 433.85,240.17 433.94,241.2 434.03,242.44 434.12,243.64 434.22,244.3 434.31,245.62 434.4,246.69 434.95,247.21 435.5,248.2 435.72,247.27 435.94,246.04 436.16,245.2 436.38,244.22 436.6,243.15 436.68,242.31 436.76,241.36 436.85,240.42 436.93,239.25 437.01,238.09 437.09,237.15 437.18,236.16 437.26,235.37 437.34,234.49 437.42,233.17 437.51,232.51 437.59,231.56 437.67,230.41 437.75,229.52 437.84,228.37 437.92,227.69 438,226.37 438.21,225.85 438.42,224.78 438.63,223.7 438.84,222.53 439.06,221.86 439.27,220.9 439.48,219.5 439.69,218.83 439.9,217.87 440.24,218.68 440.58,219.6 440.92,220.37 441.26,221.51 441.6,222.44 442.4,222.54 443.2,223.15 444.05,223.37 444.9,223.63 445.17,224.73 445.43,225.65 445.7,227.05 445.97,228.1 446.23,228.69 446.5,229.95 446.77,228.87 447.04,227.74 447.31,226.84 447.59,225.83 447.86,225.1 448.13,223.74 448.4,222.84 448.9,223.97 449.4,224.76 449.9,226.06 450.12,227.05 450.34,228.17 450.56,228.85 450.78,229.89 451,231.02 451.12,231.86 451.24,233 451.37,233.81 451.49,235 451.61,236.03 451.73,237.02 451.86,238.08 451.98,238.84 452.1,239.8 453,240.9" fill="none" stroke="#1f77b4" stroke-width="1.5" stroke-linejoin="round" stroke-linecap="square"/>
<polyline points="43.5,226.4 44.53,226.58 45.46,226.62 46.44,226.39 47.42,226.44 48.39,226.71 49.37,226.72 50.35,226.75 51.33,226.68 52.31,226.81 53.29,226.85 54.28,226.88 55.26,226.79 56.25,226.91 57.23,226.94 58.22,227.08 59.2,227.2 60.18,227.22 61.17,227.14 62.15,227.15 63.14,227.13 64.12,227.1 65.1,227.13 66.07,227.26 67.02,227.19 67.96,227.17 68.91,227.29 69.85,227.12 70.77,226.98 71.65,226.56 72.51,226.08 73.36,225.73 74.21,225.23 75.07,224.9 75.92,224.62 76.79,224.14 77.7,223.77 78.65,223.92 79.61,223.89 80.57,223.87 81.53,223.92 82.49,223.88 83.46,223.89 84.42,223.77 85.39,223.98 86.36,224.03 87.34,223.84 88.31,224.08 89.28,224.13 90.26,224.11 91.23,224.19 92.21,224.23 93.18,224.42 94.15,224.35 95.13,224.51 96.1,224.42 97.08,224.64 98.05,224.7 99.03,224.63 100,224.7 100.99,224.82 101.97,224.77 102.95,224.7 103.94,224.62 104.92,224.65 105.9,224.81 106.85,224.8 107.79,225.29 108.72,225.4 109.65,225.9 110.57,226 111.48,226.33 112.36,226.14 113.23,225.82 114.1,225.53 114.95,225.24 115.76,224.75 116.54,224.08 117.3,223.41 118.06,222.88 118.85,222.47 119.72,222.15 120.67,222.05 121.64,222.44 122.59,222.61 123.5,222.93 124.36,223.04 125.21,223.56 126.06,223.69 126.95,224.09 127.88,224.01 128.85,223.92 129.81,223.99 130.71,223.53 131.5,223.24 132.23,222.83 132.98,222.21 133.81,222.05 134.72,222.38 135.66,222.47 136.61,222.79 137.55,222.82 138.49,223.11 139.43,223.2 140.35,223.47 141.28,223.4 142.21,223.77 143.14,223.59 144.06,223.85 144.99,223.65 145.92,223.73 146.84,223.9 147.75,223.74 148.54,223.99 149.15,224.73 149.65,225.42 150.12,226.14 150.56,227.26 150.97,227.87 151.34,228.7 151.71,229.67 152.09,230.62 152.46,231.53 152.84,232.13 153.29,232.6 153.85,232.25 154.48,231.74 155.12,231.12 155.74,230.38 156.29,229.65 156.7,228.75 157.04,227.87 157.36,226.9 157.68,225.91 158.02,224.92 158.38,224.13 158.75,223.1 159.12,222.12 159.49,221.3 159.87,220.51 160.24,219.37 160.63,218.6 161.04,217.65 161.48,216.83 161.93,215.87 162.38,215.26 162.83,214.21 163.32,213.51 163.92,212.78 164.63,212.11 165.38,211.78 166.13,211.3 166.89,211.28 167.67,211.65 168.45,212.2 169.22,212.7 169.95,213.43 170.54,214.09 170.99,215.06 171.4,215.91 171.8,216.81 172.2,217.45 172.6,218.39 173,219.2 173.4,220.18 173.82,220.99 174.31,221.48 174.93,221.3 175.62,220.66 176.33,220.13 177.04,219.58 177.73,218.82 178.41,218.16 179.05,217.55 179.68,216.71 180.32,216.14 180.95,215.27 181.61,214.65 182.31,214.56 183.07,214.92 183.85,215.42 184.63,216.03 185.41,216.54 186.19,217.05 186.98,217.72 187.76,218.18 188.55,218.97 189.33,219.57 190.12,220.05 190.95,220.36 191.83,220.53 192.75,220.55 193.68,220.36 194.61,220.43 195.54,220.45 196.49,220.38 197.44,220.45 198.41,220.77 199.37,220.75 200.33,220.91 201.29,221.15 202.26,221.16 203.22,221.15 204.19,221.36 205.15,221.1 206.12,220.89 207.09,220.98 208.06,220.7 209.03,220.65 210,220.71 210.96,220.58 211.92,220.3 212.89,220.36 213.85,220.27 214.81,220.22 215.78,220.06 216.74,220.09 217.7,219.82 218.66,219.69 219.63,219.49 220.59,219.42 221.55,218.92 222.51,218.89 223.48,218.48 224.44,218.36 225.4,218.07 226.37,217.87 227.34,217.74 228.31,217.41 229.29,217.11 230.26,216.89 231.23,216.66 232.2,216.67 233.17,216.39 234.14,216.27 235.11,215.97 236.06,215.56 237,215.55 237.94,215.38 238.88,215.17 239.81,214.9 240.75,214.66 241.69,214.49 242.62,214.39 243.56,214.03 244.5,213.91 245.43,213.67 246.35,213.52 247.26,213.12 248.16,212.79 249.07,212.38 249.98,211.84 250.88,211.45 251.79,211.15 252.69,210.7 253.58,210.35 254.45,209.98 255.3,209.59 256.15,209.03 257,208.63 257.85,207.95 258.71,207.62 259.57,207.47 260.43,206.92 261.3,206.72 262.16,206.41 263.02,206.44 263.87,206.93 264.71,207.28 265.55,207.51 266.33,207.7 266.98,208.16 267.42,208.77 267.67,209.74 267.87,210.65 268.05,211.5 268.24,212.45 268.43,213.24 268.61,214.29 268.75,215.35 268.85,216.24 268.91,217 268.96,218.09 269.02,219.11 269.07,219.93 269.12,221.09 269.18,221.92 269.23,222.95 269.28,223.83 269.34,224.96 269.39,225.86 269.45,226.76 269.51,227.6 269.58,228.68 269.66,229.55 269.73,230.71 269.81,231.79 269.89,232.58 269.97,233.67 270.04,234.66 270.12,235.63 270.2,236.71 270.28,237.78 270.36,238.7 270.43,239.63 270.51,240.77 270.59,241.57 270.67,242.69 270.74,243.65 270.82,244.58 270.92,245.03 271.02,244.46 271.14,243.72 271.27,242.7 271.39,241.82 271.51,240.96 271.63,239.9 271.75,238.76 271.87,237.94 272,237.05 272.12,236.15 272.23,235.12 272.32,234.19 272.38,232.97 272.43,232.26 272.48,231.2 272.54,230.17 272.59,229.27 272.64,228.28 272.69,227.05 272.75,226.28 272.8,225.27 272.85,224.11 272.9,223.28 272.95,222.24 273.01,221.14 273.06,220.33 273.11,219.14 273.16,218.29 273.22,217.25 273.27,216.2 273.33,215.31 273.42,214.33 273.62,213.45 273.94,213.27 274.28,213.22 274.52,213.93 274.67,215 274.81,216.05 274.95,216.95 275.09,217.93 275.22,218.8 275.36,219.8 275.46,220.67 275.53,221.63 275.57,222.69 275.61,223.54 275.64,224.55 275.68,225.75 275.72,226.57 275.75,227.74 275.79,228.74 275.82,229.63 275.86,230.7 275.89,231.73 275.93,232.75 275.97,233.52 276,234.53 276.04,235.59 276.07,236.61 276.11,237.55 276.15,238.45 276.27,239.53 276.61,240.33 277.25,240.51 278.12,240.69 279.1,240.66 280.1,240.68 281.1,240.81 282.1,240.64 283.09,240.74 284.09,240.7 285.09,240.71 286.09,240.82 287.09,240.57 288.09,240.8 289.09,240.64 290.09,240.74 291.09,240.79 292.09,240.75 293.09,240.67 294.09,240.8 295.08,240.58 296.08,240.74 297.08,240.67 298.08,240.71 299.08,240.81 300.08,240.79 301.08,240.74 302.08,240.64 303.08,240.62 304.08,240.69 305.08,240.62 306.07,240.63 307.07,240.84 308.07,240.58 309.07,240.8 310.07,240.66 311.07,240.66 312.07,240.65 313.07,240.57 314.07,240.69 315.07,240.6 316.07,240.68 317.06,240.64 318.06,240.82 319.06,240.83 320.06,240.68 321.06,240.74 322.06,240.83 323.06,240.65 324.06,240.58 325.06,240.62 326.06,240.61 327.06,240.75 328.06,240.66 329.05,240.66 330.05,240.79 331.05,240.62 332.05,240.79 333.05,240.74 334.05,240.67 335.05,240.8 336.05,240.65 337.05,240.81 338.05,240.83 339.05,240.7 340.04,240.76 341.04,240.83 342.04,240.77 343.04,240.78 344.04,240.81 345.04,240.83 346.04,240.78 347.04,240.84 348.04,240.64 349.04,240.74 350.04,240.75 351.04,240.66 352.03,240.67 353.03,240.6 354.03,240.84 355.03,240.66 356.03,240.69 357.03,240.82 358.03,240.61 359.03,240.84 360.03,240.59 361.03,240.56 362.03,240.66 363.02,240.66 364.02,240.83 365.02,240.81 366.02,240.78 367.02,240.68 368.02,240.71 369.02,240.62 370.02,240.8 371.02,240.67 372.02,240.64 373.02,240.74 374.01,240.6 375.01,240.64 376.01,240.83 377.01,240.58 378.01,240.59 379.01,240.61 380.01,240.63 381.01,240.68 382.01,240.63 383.01,240.65 384.01,240.62 385.01,240.62 386,240.73 387,240.65 388,240.66 389,240.78 389.95,240.57 391,240.7" fill="none" stroke="#ff7f0e" stroke-width="1.5" stroke-linejoin="round" stroke-linecap="square"/>
<polyline points="43.5,225.8 44.47,225.68 45.44,226.01 46.41,225.95 47.39,226.23 48.36,226.33 49.33,225.97 50.3,226.01 51.29,226.6 52.28,226.07 53.27,225.99 54.26,226.53 55.24,226.04 56.23,226.27 57.22,225.91 58.21,225.98 59.2,225.52 60.27,225.97 61.33,226.23 62.4,226.02 63.47,226.26 64.53,226.27 65.6,225.85 66.57,225.91 67.55,225.27 68.53,224.54 69.5,223.82 70.45,224.62 71.4,224.43 72.35,224.75 73.3,225 74.26,224.61 75.22,224.51 76.19,223.83 77.15,223.89 78.11,223.34 79.08,223.47 80.04,223.17 81,222.28 81.96,222.31 82.92,222.37 83.89,222.97 84.85,222.55 85.81,222.7 86.78,222.44 87.74,222.61 88.7,222.51 89.61,222.3 90.53,222.3 91.44,222.11 92.36,222.18 93.27,221.82 94.19,221.83 95.1,221.59 96.08,221.75 97.06,221.56 98.04,221.21 99.02,221.83 100,221.97 100.98,221.9 101.97,221.61 102.95,221.7 103.94,221.28 104.92,221.75 105.91,221.52 106.89,221.27 107.88,221.07 108.86,221.68 109.85,221.76 110.83,221.02 111.82,221.56 112.8,221.23 113.87,221.17 114.93,221.44 116,221.97 117.07,222.2 118.13,221.69 119.2,222.29 120.27,221.79 121.33,222.27 122.4,221.91 123.47,222.3 124.53,222.33 125.6,221.9 126.56,222.3 127.53,221.75 128.49,221.56 129.45,221.98 130.41,221.53 131.38,221.66 132.34,221.83 133.3,221.99 134.26,221.79 135.23,221.86 136.19,222.68 137.15,222.4 138.11,223.08 139.07,223.19 140.04,222.94 141,223.17 141.96,223.14 142.93,223.17 143.89,223.05 144.85,222.95 145.81,222.92 146.77,223.1 147.74,222.68 148.7,222.54 149.73,222.81 150.75,222.46 151.78,222.55 152.81,223.13 153.84,222.8 154.86,222.86 155.89,222.46 156.92,222.82 157.95,222.99 158.97,222.58 160,223.09 160.98,223.13 161.96,222.7 162.94,223.17 163.92,223.07 164.9,223.26 165.89,223.02 166.87,223.33 167.85,223.38 168.83,222.83 169.81,222.89 170.79,223.4 171.77,223.66 172.75,223.11 173.73,223.3 174.71,223.43 175.7,223.24 176.68,223.3 177.66,223.28 178.64,223.35 179.62,223.55 180.6,223.34 181.59,223.46 182.58,223.83 183.58,223.28 184.57,223.77 185.56,223.96 186.55,223.67 187.55,223.65 188.54,224.17 189.53,223.78 190.52,223.79 191.52,224.04 192.51,224.3 193.5,223.88 194.53,224.06 195.56,224.07 196.59,224.47 197.62,224.15 198.66,224.48 199.69,223.94 200.72,224.07 201.75,224.32 202.78,224.51 203.81,224.16 204.84,223.98 205.88,223.9 206.91,224.22 207.94,223.95 208.97,224.45 210,224.47 211,223.87 212,223.87 213,224.21 214,224 215,224.06 216,223.61 217,223.36 218,223.41 219,223.74 219.96,223.52 220.93,223.78 221.89,224.03 222.85,224.24 223.81,224.43 224.77,225.04 225.74,224.62 226.7,224.7 227.61,225.23 228.53,224.95 229.44,224.8 230.36,224.13 231.27,224.32 232.19,224.07 233.1,223.28 234.06,223.66 235.03,223.69 235.99,223.52 236.95,223.37 237.91,223.14 238.88,223.15 239.84,223.02 240.8,222.85 241.76,223.51 242.73,223.5 243.69,224.16 244.65,223.79 245.61,224.71 246.57,224.78 247.54,225.2 248.5,225.42 249.41,225.15 250.33,224.62 251.24,223.9 252.16,224.21 253.07,223.48 253.99,223.31 254.9,223.33 255.97,223.19 257.03,223.06 258.1,223.45 259.17,223.16 260.23,222.91 261.3,222.8 262.27,223.42 263.23,223.25 264.2,223.63 265.17,223.41 266.13,223.42 267.1,223.83 268.07,224.19 269.03,223.8 270,224.43 270.92,224.4 271.83,224.18 272.75,224.06 273.67,223.27 274.58,223.64 275.5,223.69 276.54,223.11 277.57,223.37 278.61,223.44 279.65,223.72 280.69,223.71 281.73,223.83 282.76,224.15 283.8,223.6 284.79,223.56 285.77,223.53 286.76,223.44 287.74,223.31 288.73,223.95 289.71,223.77 290.7,223.07 291.7,223.3 292.7,223.05 293.7,222.95 294.7,222.88 295.7,223.02 296.7,222.87 297.7,222.59 298.62,222.52 299.53,222.7 300.45,222.6 301.37,223.01 302.28,223.21 303.2,223 304.12,222.35 305.03,222.01 305.95,221.75 306.87,221.52 307.78,221.24 308.7,220.5 309,219.82 309.3,218.67 309.6,217.5 309.9,216.43 310.2,215.51 310.5,214.66 310.72,213.48 310.94,212.75 311.15,211.61 311.37,210.48 311.59,209.76 311.81,208.93 312.03,207.48 312.25,206.8 312.46,205.85 312.68,205.26 312.9,204.35 313.2,202.96 313.5,202.44 313.8,201.42 314.1,200.06 314.4,199.28 314.7,198.07 315,197.69 315.3,196.63 315.8,195.89 316.3,194.9 316.8,193.88 317.3,193.02 317.8,191.97 318.3,190.68 318.77,190.13 319.24,188.72 319.71,187.89 320.19,187.45 320.66,185.92 321.13,185.02 321.6,184.08 322.55,184.25 323.5,183.24 324.45,182.67 325.4,182.87 326.33,182.9 327.27,184.08 328.2,184.54 328.95,185.4 329.7,186.23 330.45,186.66 331.2,187.57 331.95,187.7 332.7,189.01 333.62,188.99 334.53,189.34 335.45,189.04 336.37,189.73 337.28,190.06 338.2,189.55 339.12,190.13 340.03,190.68 340.95,191.26 341.87,191.16 342.78,191.48 343.7,191.9 344.62,192.74 345.53,193.4 346.45,193.66 347.37,194.19 348.28,194.77 349.2,195.28 350.13,195.82 351.07,196.03 352,196.85 352.93,197.71 353.87,197.75 354.8,198.5 355.72,198.4 356.63,199.19 357.55,199.6 358.47,199.91 359.38,200.15 360.3,200.49 361.24,200.77 362.19,201.13 363.13,200.69 364.07,200.81 365.01,201.48 365.96,201.78 366.9,201.61 367.86,201.71 368.81,202.09 369.77,201.82 370.73,202.04 371.69,202.15 372.64,202.61 373.6,202.55 374.54,202.57 375.48,203.01 376.42,203.3 377.36,202.86 378.3,203.26 378.5,202.03 378.7,201.38 378.9,200.17 379.1,198.91 379.3,197.87 379.5,196.72 379.7,196.08 379.9,195.01 380.1,193.84 380.3,192.99 380.5,191.96 380.71,191.33 380.92,189.85 381.12,189.54 381.33,188.15 381.54,187.26 381.75,186.17 381.95,185.48 382.16,184.48 382.37,183.28 382.58,182.24 382.78,181.45 382.99,180.57 383.2,179.22 383.29,180.51 383.38,181.71 383.47,182.34 383.56,183.17 383.65,184.19 383.74,185.6 383.83,186.59 383.92,187.84 384.01,188.77 384.09,189.3 384.18,190.28 384.27,191.36 384.36,192.32 384.45,193.76 384.54,194.9 384.63,195.96 384.72,196.46 384.81,197.97 384.9,198.55 384.98,199.64 385.05,200.88 385.13,201.37 385.2,202.37 385.28,203.97 385.36,204.53 385.43,205.59 385.51,206.76 385.59,207.84 385.66,208.31 385.74,209.57 385.81,210.65 385.89,211.69 385.97,212.47 386.04,213.77 386.12,215.06 386.2,215.61 386.27,216.74 386.35,217.4 386.42,218.52 386.5,219.83 386.63,218.4 386.76,218.03 386.89,217.06 387.02,215.42 387.15,215.1 387.28,213.66 387.41,212.99 387.54,211.99 387.67,210.63 387.8,209.94 387.91,210.95 388.01,212.1 388.12,212.69 388.23,214.11 388.33,215.3 388.44,216.1 388.55,217.02 388.65,217.7 388.76,219.04 388.87,219.95 388.97,221.27 389.08,222.26 389.19,223.2 389.29,223.92 389.4,225.32 389.5,226.31 389.6,226.96 389.7,228.53 389.8,229.35 389.9,229.93 390,231.59 390.1,231.96 390.2,233.12 390.3,234.44 390.4,235.34 390.5,236.32 390.6,237.4 390.7,238.25 390.8,239.14 390.9,240.04 391.9,239.95 392.9,240.47 393.9,240.5 394.91,240.33 395.91,240.49 396.91,240.19 397.91,240.11 398.91,240.21 399.91,240.6 400.92,239.93 401.92,240.3 402.92,240.1 403.92,240.52 404.92,240.18 405.92,240.17 406.93,240.22 407.93,240.33 408.93,240.52 409.93,240.18 410.93,240.58 411.93,239.99 412.94,240.12 413.94,239.98 414.94,239.99 415.94,240.52 416.94,240.48 417.94,240.05 418.95,240.05 419.95,240.23 420.95,240.49 421.95,240.55 422.95,240.5 423.95,240.37 424.95,240.02 425.96,240.22 426.96,240.05 427.96,240.32 428.96,240.35 429.96,240.06 430.96,240.1 431.97,240.53 432.97,239.92 433.97,240.54 434.97,240.61 435.97,240.66 436.97,240.21 437.98,240.34 438.98,240.37 439.98,240.41 440.98,240.68 441.98,240.45 442.98,240.14 443.99,240.59 444.99,240.29 445.99,240.38 446.99,240.48 447.99,239.9 448.99,240.52 450,240.43 451,240.29 452,240.32 453,240.3" fill="none" stroke="#2ca02c" stroke-width="1.5" stroke-linejoin="round" stroke-linecap="square"/>
</g>
<g clip-path="url(#c3)">
<polyline points="43.5,326.5 44.35,325.91 45.2,325.44 46.05,325.36 46.9,324.79 47.83,324.48 48.77,324.54 49.7,324.78 50.4,325.02 51.1,325.34 51.49,323.96 51.87,323.36 52.26,322.24 52.64,321.26 53.03,320.32 53.41,319.53 53.8,319.28 54.73,319.66 55.67,320.11 56.6,320.57 57.65,320.47 58.7,321.03 58.95,322.33 59.2,323.43 59.45,324.56 59.7,325.59 59.95,325.89 60.2,327.37 60.45,328.44 60.7,329.31 61.4,328.31 62.1,327.88 62.8,326.83 63.5,326.89 64.55,326.48 65.6,325.84 66.65,325.27 67.7,325.47 68.62,324.6 69.53,324.31 70.45,323.71 71.37,322.84 72.28,322.19 73.2,321.79 74.22,321.29 75.25,320.7 76.28,320.47 77.3,320.58 77.77,318.97 78.23,318.05 78.7,317.65 79.17,316.41 79.63,315.72 80.1,314.74 80.57,313.7 81.03,313.37 81.5,311.73 82.55,311.57 83.6,311.03 84.1,312.27 84.6,312.8 85.1,313.72 85.6,314.92 85.86,315.49 86.12,316.65 86.39,317.91 86.65,318.14 86.91,319.06 87.17,320.16 87.44,321.59 87.7,322.4 88.22,322.94 88.75,323.9 89.28,324.63 89.8,325.76 90.73,325.16 91.67,325.51 92.6,325.46 93.27,324.81 93.95,323.91 94.62,323.41 95.3,321.87 96.06,321.57 96.82,321.64 97.58,320.93 98.34,320.06 99.1,320 99.94,320.25 100.78,320.97 101.62,321.03 102.46,321.48 103.3,322.25 104.17,321.3 105.05,320.84 105.92,320.69 106.8,319.45 107.76,319.58 108.72,320.03 109.68,320.56 110.64,321.54 111.6,321.58 112.62,321.61 113.65,321.54 114.67,322.43 115.7,322.03 116.4,321.2 117.1,320.42 117.8,319.78 118.5,319.24 119.2,319.06 119.9,319.26 120.6,319.85 121.3,320.93 122,321.39 122.7,322.75 123.2,322.84 123.7,324.08 124.2,325.17 124.7,325.72 125.4,325.42 126.1,324.14 126.8,323.11 127.5,322.44 128.2,321.28 129.12,321.73 130.03,321.67 130.95,322.35 131.87,322.4 132.78,322.2 133.7,321.88 134.63,322.13 135.57,322.17 136.5,322.19 137.43,322.26 138.37,322.88 139.3,322.28 140.33,321.97 141.35,322.54 142.38,321.98 143.4,322.14 144.24,322.15 145.08,323.14 145.92,323.46 146.76,324.12 147.6,324.62 148.62,324.84 149.65,324.93 150.67,325.49 151.7,326.54 152.65,326.39 153.6,326.25 154.55,325.55 155.5,325.67 156.45,325.64 157.4,325.33 158.43,325.32 159.47,324.89 160.5,324.84 161.53,324.7 162.57,324.16 163.6,324.58 164.63,324.54 165.67,323.68 166.7,324.42 167.73,324.35 168.77,324.02 169.8,323.39 170.7,324.44 171.6,324.04 172.5,325.08 173.4,325.09 174.3,324.83 175.2,325.21 176.1,325.92 177.12,325.71 178.15,325.72 179.17,325.73 180.2,324.95 180.72,323.89 181.23,323.85 181.75,322.16 182.27,322.07 182.78,320.52 183.3,320.28 183.74,319.37 184.19,318.57 184.63,317.39 185.07,316.8 185.51,315.3 185.96,314.84 186.4,313.65 187.43,314.09 188.47,313.91 189.5,313.57 190.53,313.56 191.57,313.04 192.6,312.98 193.49,313.1 194.37,312.62 195.26,312.57 196.14,311.95 197.03,311.15 197.91,310.96 198.8,310.94 199.74,310.62 200.68,310.06 201.62,310.7 202.56,310.59 203.5,309.83 204.46,310.6 205.42,310.81 206.38,311.54 207.34,311.47 208.3,311.76 209.22,312.22 210.13,312.89 211.05,312.34 211.97,312.59 212.88,313.28 213.8,313.75 214.73,313.41 215.67,313.34 216.6,313.72 217.53,313.65 218.47,313.01 219.4,313.74 220.25,313.35 221.1,313.67 221.95,314.38 222.8,314.23 223.78,314.47 224.76,313.8 225.74,314.34 226.72,313.61 227.7,313.48 228.62,313.83 229.53,313.72 230.45,313.94 231.37,314.3 232.28,314.16 233.2,313.56 233.55,312.98 233.9,312.34 234.25,311.44 234.6,310.79 235.28,309.89 235.95,308.82 236.62,308.27 237.3,308.11 237.86,306.85 238.42,306.4 238.98,305.78 239.54,304.63 240.1,303.86 241.03,303.47 241.97,302.87 242.9,303.07 243.93,302.75 244.95,303.22 245.97,302.75 247,303.33 247.93,303.72 248.87,304.04 249.8,304.35 250.72,304.26 251.63,305.01 252.55,304.83 253.47,305.28 254.38,304.99 255.3,305.12 256.31,305.18 257.32,305.78 258.33,305.21 259.34,305.86 260.35,305.38 261.36,305.57 262.37,305.37 263.38,305.61 264.39,305.13 265.4,305.41 266.34,306.08 267.27,305.59 268.21,306.21 269.15,306.11 270.08,306.28 271.02,306.22 271.95,306.4 272.89,307.43 273.83,307.51 274.76,307.68 275.7,307.88 276.65,308.2 277.59,307.67 278.54,308.25 279.48,308.36 280.43,308.62 281.37,309.14 282.32,309.17 283.26,309.55 284.21,308.97 285.15,309.65 286.1,309.86 287.04,310.11 287.97,310.19 288.91,310.57 289.85,310.29 290.78,311.04 291.72,310.76 292.65,311.13 293.59,311.58 294.53,311.6 295.46,311.44 296.4,311.56 297.35,311.79 298.29,312.21 299.24,312.68 300.18,312.74 301.13,312.44 302.07,312.58 303.02,313.1 303.96,312.77 304.91,313.03 305.85,312.82 306.8,313.12 307.82,313.62 308.84,313.93 309.86,314.04 310.88,314 311.9,314.71 312.89,314.67 313.87,314.5 314.86,314.68 315.84,315.75 316.83,316.02 317.81,316.22 318.8,316.19 319.79,316.23 320.77,316.33 321.76,316.78 322.74,317.05 323.73,317.99 324.71,318.25 325.7,318.45 326.7,317.78 327.7,317.76 328.7,317.72 329.7,318.2 330.7,317.4 331.7,317.86 332.7,317.66 333.69,317.84 334.67,318.51 335.66,318.19 336.64,318.72 337.63,318.69 338.61,318.94 339.6,319.18 340.59,319.43 341.57,319.26 342.56,319.21 343.54,320.04 344.53,319.41 345.51,319.95 346.5,319.78 347.49,320.04 348.47,320.2 349.46,320.69 350.44,320.85 351.43,320.94 352.41,321.03 353.4,321.37 354.39,321.39 355.37,321.22 356.36,321.16 357.34,320.83 358.33,321.44 359.31,321.1 360.3,320.71 361.24,320.94 362.19,321.72 363.13,321.31 364.07,321.57 365.01,321.98 365.96,322.28 366.9,321.95 367.87,321.86 368.84,321.75 369.81,321.26 370.78,321.88 371.75,320.97 372.72,321.67 373.69,320.81 374.66,320.67 375.63,321.15 376.6,320.99 377.59,320.69 378.57,321.21 379.56,321.36 380.54,321.81 381.53,321.56 382.51,322.36 383.5,322.75 384.54,322.41 385.57,322.53 386.61,322.47 387.65,321.89 388.69,322.24 389.73,322.15 390.76,321.85 391.8,321.35 392.79,321.81 393.77,322.07 394.76,321.52 395.74,321.83 396.73,322.06 397.71,321.79 398.7,321.28 399.54,322.5 400.38,322.84 401.22,324.06 402.06,324.57 402.9,324.93 403.58,326.16 404.27,326.61 404.95,327.06 405.63,328.2 406.32,328.95 407,329.65 407.93,329.86 408.87,329.88 409.8,330.13 410.73,330.26 411.67,330.41 412.6,331.04 413.66,330.55 414.71,330.39 415.77,331.05 416.83,330.94 417.89,331.07 418.94,331.2 420,330.97 420.94,330.87 421.89,330.7 422.83,331.28 423.77,331.34 424.71,331.09 425.66,330.51 426.6,331.23 427.66,330.97 428.72,330.57 429.78,329.99 430.84,330.63 431.9,330.31 431.92,329.31 431.94,327.77 431.95,327.42 431.97,325.79 431.99,325.19 432,323.9 432.02,323.09 432.04,322.57 432.06,321.45 432.07,320.51 432.09,319.05 432.11,318.13 432.13,317.33 432.14,315.82 432.16,315.16 432.18,314.67 432.2,313.47 432.21,312.57 432.23,311.07 432.25,310.42 432.27,309.51 432.29,308.44 432.3,307.2 432.32,305.97 432.34,304.83 432.36,304.61 432.37,303.66 432.39,302.07 432.41,301.5 432.43,300.19 432.44,299.39 432.46,298.59 432.48,297.12 432.5,296.39 432.51,295.07 432.53,294.3 432.55,292.87 432.56,292.08 432.58,291.11 432.6,290.67 432.65,288.96 432.69,288.51 432.74,286.89 432.79,286.69 432.84,284.94 432.88,283.86 432.93,282.96 432.98,282.6 433.02,281.35 433.07,280.53 433.12,279.17 433.16,277.81 433.21,277 433.26,276.1 433.31,275.56 433.35,273.81 433.4,272.87 433.7,272.51 434,270.95 434.3,270.82 434.6,269.32 434.9,268.66 435.2,267.84 435.35,266.99 435.5,265.17 435.65,264.79 435.8,263.11 435.86,264.61 435.91,265 435.97,266.68 436.02,267.16 436.08,268.2 436.14,269.06 436.19,270.33 436.25,271.35 436.31,272.95 436.36,273.62 436.42,274.42 436.48,275.99 436.53,276.27 436.59,277.32 436.64,279 436.7,280.01 436.73,280.74 436.75,281.99 436.78,282.13 436.81,283.87 436.84,284.67 436.86,285.61 436.89,286.75 436.92,287.06 436.95,288.13 436.97,289.05 437,290.33 437.03,291.37 437.05,292.34 437.08,293.16 437.11,294.48 437.14,295.54 437.16,296.45 437.19,296.78 437.22,297.86 437.25,298.89 437.27,299.89 437.3,301.17 437.38,301.83 437.46,303.21 437.54,303.96 437.61,304.98 437.69,306.29 437.77,307.5 437.85,307.82 437.93,308.96 438.01,310.53 438.09,310.84 438.16,311.67 438.24,312.82 438.32,314.39 438.4,315.31 439.5,314.89 439.78,315.5 440.07,316.09 440.35,317.33 440.63,318.7 440.92,319.4 441.2,320.18 441.37,321.34 441.53,322.38 441.7,323.24 441.87,324.27 442.03,324.95 442.2,325.81 442.37,327.44 442.53,328.35 442.7,329.03 443.43,329.49 444.17,330.38 444.9,331.35 445.91,331.74 446.92,331.46 447.94,331.99 448.95,331.67 449.96,331.45 450.98,331.93 451.99,332 453,332" fill="none" stroke="#1f77b4" stroke-width="1.5" stroke-linejoin="round" stroke-linecap="square"/>
<polyline points="43.5,307.8 44.5,308.61 45.5,309.42 46.38,309.82 47.25,310.3 48.12,310.47 49,310.98 50.02,310 51.05,310.22 52.08,310.47 53.1,310.03 53.8,311.14 54.5,311.3 55.2,312.5 55.9,313.17 56.83,313.21 57.77,313 58.7,312.26 59.38,311.75 60.05,311.1 60.73,310.97 61.4,310.14 62.27,309.87 63.15,310.72 64.03,310.4 64.9,311.11 65.6,310.06 66.3,309.35 67,309.53 67.35,308.06 67.7,307.19 68.05,307.01 68.4,306.04 69.4,304.86 70.4,304.82 70.75,303.39 71.1,302.46 71.45,300.98 71.8,300.6 72.36,299.49 72.92,298.86 73.48,297.91 74.04,296.5 74.6,295.68 75.14,296.24 75.68,296.96 76.22,297.63 76.76,298.58 77.3,299.59 77.8,299.94 78.3,301.43 78.8,302.01 79.3,302.87 79.8,304.22 80.3,304.8 80.8,305.53 81.67,306.21 82.55,306.93 83.42,306.88 84.3,308.23 85.15,307.15 86,307.57 86.85,307.44 87.7,306.47 88.58,307.73 89.45,307.93 90.33,308.7 91.2,308.76 92.02,309.49 92.84,310.31 93.66,311.71 94.48,311.73 95.3,312.93 96.25,313.41 97.2,313.75 98.15,313.53 99.1,313.87 100.15,314.1 101.2,314.4 102.25,313.87 103.3,314.52 104,315.21 104.7,315.9 105.4,315.8 106.1,317.26 106.8,317.13 107.06,316.4 107.32,315.68 107.58,315 107.84,313.52 108.1,313.08 108.8,312.17 109.5,311.4 110.2,310.84 111.6,311.01 111.86,309.97 112.12,309.08 112.39,308.62 112.65,307.95 112.91,306.25 113.17,305.19 113.44,305.09 113.7,303.73 114.15,302.8 114.6,301.83 115.05,301.33 115.5,300.73 115.95,299.58 116.4,298.73 116.87,299.33 117.33,301.04 117.8,301.18 118.27,302.53 118.73,303.77 119.2,304.07 119.59,305.53 119.98,306.65 120.37,307.28 120.76,308.35 121.14,308.66 121.53,309.87 121.92,310.54 122.31,312.09 122.7,312.52 123.55,312.31 124.4,312.45 125.25,311.97 126.1,311.73 126.57,310.32 127.03,309.42 127.5,308.71 127.97,307.55 128.43,306.45 128.9,305.61 129.43,304.63 129.95,304.09 130.47,303.89 131,303.11 131.54,303.69 132.08,304.46 132.62,305.19 133.16,305.85 133.7,306.9 134.3,308.15 134.9,309.03 135.5,309.38 136.1,310.56 136.7,311.35 137.3,312.08 137.9,312.85 138.93,312.58 139.95,311.88 140.97,311.83 142,311.1 142.93,311.75 143.87,312.48 144.8,312.87 145.62,313.19 146.44,314.46 147.26,314.87 148.08,315.49 148.9,315.66 149.04,315.1 149.18,313.8 149.32,313.13 149.46,311.91 149.6,311.19 149.74,309.99 149.88,309.09 150.02,307.64 150.16,306.87 150.3,305.91 150.57,305.08 150.84,303.74 151.11,303.27 151.39,302.38 151.66,301.3 151.93,300.64 152.2,299.71 152.41,300.36 152.63,301.41 152.84,302.13 153.06,303.77 153.27,304.91 153.49,305.54 153.7,306.77 153.84,305.85 153.98,304.91 154.12,303.45 154.27,303.05 154.41,301.92 154.55,301.05 154.69,299.88 154.83,299.11 154.97,298.3 155.12,297.22 155.26,296.35 155.4,294.77 155.58,293.92 155.76,293.19 155.95,292.41 156.13,291.04 156.31,290.49 156.49,289.46 156.68,287.95 156.86,287.36 157.04,286.17 157.22,285.03 157.41,284.13 157.59,283.32 157.77,282.22 157.95,281.25 158.14,280.14 158.32,279.55 158.5,278.49 158.74,277.75 158.98,276.77 159.22,275.5 159.45,275.15 159.69,273.38 159.93,272.79 160.17,271.72 160.41,270.89 160.65,269.67 160.88,269.36 161.12,267.99 161.36,266.74 161.6,266.3 161.87,266.76 162.13,268.09 162.4,268.82 162.67,269.96 162.93,271.22 163.2,272.02 163.47,272.58 163.73,273.86 164,274.63 164.13,275.37 164.26,276.15 164.39,277.54 164.51,278.5 164.64,279.84 164.77,280.84 164.9,281.5 165.03,282.25 165.16,283.73 165.29,283.91 165.41,284.99 165.54,286.39 165.67,287.42 165.8,287.98 165.93,289.4 166.06,290.62 166.19,291.15 166.31,292.18 166.44,292.98 166.57,294.03 166.7,295.63 166.94,296.05 167.18,297.52 167.42,298.43 167.65,299.1 167.89,299.75 168.13,301.36 168.37,301.87 168.61,302.75 168.85,303.62 169.08,305.17 169.32,305.68 169.56,306.45 169.8,307.58 170.44,306.44 171.08,306.07 171.72,305.09 172.36,304.13 173,303.75 173.78,303.27 174.55,302.01 175.32,301.95 176.1,301.2 176.38,300.86 176.66,299.78 176.95,298.36 177.23,297.45 177.51,296.41 177.79,296.22 178.07,294.66 178.35,294.01 178.64,292.95 178.92,292.17 179.2,291.19 180.2,291.82 181.2,291.76 181.33,293.3 181.46,293.86 181.59,295.04 181.72,295.83 181.86,296.76 181.99,297.94 182.12,298.85 182.25,299.72 182.38,301.04 182.51,301.87 182.64,302.34 182.78,303.5 182.91,304.65 183.04,306.04 183.17,306.98 183.3,307.64 183.51,308.13 183.71,309.78 183.92,310.43 184.13,311.53 184.33,312.62 184.54,313.52 184.75,314.35 184.95,315.7 185.16,316.2 185.37,317.17 185.57,318.55 185.78,318.93 185.99,319.98 186.19,321.43 186.4,321.71 186.7,323.29 187,324.05 187.3,324.7 187.6,325.45 187.9,326.78 188.2,327.78 188.5,327.98 189.53,328.65 190.57,329.08 191.6,329.4 192.38,328.72 193.15,328.04 193.92,327.9 194.7,327.58 195.47,327.44 196.25,328.11 197.03,329.16 197.8,329.66 198.58,330.05 199.35,329.97 200.12,331.1 200.9,331.83 201.9,331.72 202.9,331.31 203.9,330.59 204.9,331.17 205.9,330.48 206.9,330.73 207.76,330.49 208.62,329.77 209.49,328.73 210.35,328.36 211.21,328.41 212.08,327.21 212.94,327.11 213.8,326.42 214.6,325.64 215.4,325.5 216.2,324.42 217,323.92 217.8,323.61 218.6,322.77 219.4,322.2 220.43,322.94 221.45,323.37 222.47,323.77 223.5,323.37 224.34,324.06 225.18,324.37 226.02,325.05 226.86,325.37 227.7,326.19 228.62,325.34 229.53,324.7 230.45,324.93 231.37,324.09 232.28,324.17 233.2,323.71 234.24,323.98 235.27,323.57 236.31,323.55 237.35,323.14 238.39,323.31 239.43,322.95 240.46,323.31 241.5,323.02 242.42,322.9 243.33,323.23 244.25,323.58 245.17,324.15 246.08,323.88 247,324.59 247.7,325.01 248.4,324.96 249.1,325.95 249.57,324.52 250.03,323.63 250.5,323.13 250.97,321.9 251.43,321.56 251.9,320.28 252.75,320.37 253.6,321.02 254.45,320.55 255.3,321.4 256.14,321.23 256.99,321.74 257.83,322.89 258.67,323.08 259.51,323.09 260.36,323.43 261.2,324.63 262.04,324.77 262.88,325.33 263.72,325.14 264.56,325.99 265.4,326.17 266.2,326.39 267,326.82 267.8,327.4 267.82,326.16 267.84,325.19 267.86,323.96 267.88,323.58 267.9,322.41 267.92,321.54 267.94,320.2 267.96,319.57 267.98,318.27 267.99,317.33 268.01,316.3 268.03,315.45 268.05,314.13 268.07,312.86 268.09,311.8 268.11,310.94 268.13,309.79 268.15,309.55 268.17,308.18 268.19,307.42 268.21,305.73 268.23,305.15 268.25,304.52 268.27,303.27 268.29,302.1 268.31,301.12 268.32,299.79 268.34,298.83 268.36,297.83 268.38,297.02 268.4,296.02 268.42,295.46 268.44,293.8 268.46,292.89 268.48,291.91 268.5,290.8 268.58,289.95 268.65,288.94 268.73,288.2 268.81,286.83 268.88,286.67 268.96,285.21 269.04,284.76 269.12,283.58 269.19,282.6 269.27,281.46 269.35,280.92 269.42,279.22 269.5,278.75 269.83,277.38 270.17,276.69 270.5,275.71 270.62,274.18 270.74,273.19 270.86,272.01 270.98,271.18 271.1,270.02 271.19,271.34 271.28,272.89 271.37,273.37 271.46,274.35 271.55,275.52 271.64,276.38 271.73,277.82 271.82,278.84 271.91,279.37 272,280.47 272.02,281.86 272.04,283.1 272.06,283.84 272.08,284.65 272.1,286.14 272.12,286.28 272.14,287.33 272.15,288.98 272.17,289.65 272.19,290.32 272.21,291.78 272.23,293.18 272.25,293.76 272.27,294.61 272.29,295.38 272.31,296.37 272.33,298.11 272.35,298.75 272.37,300.15 272.39,300.36 272.41,301.54 272.43,302.37 272.45,303.68 272.46,304.38 272.48,305.56 272.5,306.7 272.52,307.61 272.54,308.39 272.56,309.38 272.58,311.22 272.6,311.51 273.12,312.58 273.65,313.26 274.18,314.15 274.7,314.53 274.99,315.76 275.27,316.6 275.56,318.02 275.84,319.39 276.13,320.13 276.41,321.39 276.7,321.84 276.93,322.59 277.17,323.98 277.4,324.85 277.63,325.85 277.87,326.6 278.1,327.75 278.33,328.76 278.57,329.85 278.8,330.23 279.3,331.4 279.8,332.5" fill="none" stroke="#ff7f0e" stroke-width="1.5" stroke-linejoin="round" stroke-linecap="square"/>
<polyline points="279.8,332.5 285,333.9 443,333.9 445,332.4 449,332.4 451,333.9" fill="none" stroke="#ff7f0e" stroke-width="1.5" stroke-linejoin="round" stroke-linecap="square"/>
<polyline points="43.5,317.5 44.35,318.29 45.2,318.68 46.05,318.53 46.9,318.54 47.77,318.85 48.65,320.54 49.52,320.96 50.4,322.09 50.85,320.69 51.3,320.47 51.75,318.91 52.2,318.89 52.65,317.96 53.1,316.67 53.8,317.56 54.5,318.47 55.2,318.44 56.13,318.75 57.07,318.89 58,317.85 58.9,318.56 59.8,318.28 60.7,318.42 61.4,318.39 62.1,318.76 62.8,320.55 63.5,321.29 64.2,321.48 64.9,321.69 65.6,321.03 66.3,320.86 67,319.53 67.7,319.7 68.4,318.33 69.25,318.28 70.1,319.48 70.95,319.57 71.8,320.95 72.5,321.71 73.2,321.92 73.9,322.92 74.6,323.8 75.3,324.76 76,325.81 76.82,323.83 77.64,323.77 78.46,323.57 79.28,322.57 80.1,322.43 80.94,322.1 81.78,323.71 82.62,323.6 83.46,323.41 84.3,324.64 85.12,324.68 85.94,325.06 86.76,326.06 87.58,326.1 88.4,326.76 89.45,327.57 90.5,327.15 91.55,325.94 92.6,326.92 93.42,326.2 94.24,327.09 95.06,328.37 95.88,328.36 96.7,328.31 97.53,328.82 98.35,329.23 99.17,329.24 100,330.95 100.95,329.88 101.9,330.78 102.78,330.79 103.65,329.8 104.53,330.2 105.4,328.62 106.43,329.8 107.47,329.76 108.5,329.51 109.53,329.92 110.57,329.34 111.6,330 112.52,330.03 113.43,329.69 114.35,329.71 115.27,330.14 116.18,329.78 117.1,329.38 118.03,330.59 118.97,330.08 119.9,330.63 120.83,331.29 121.77,330.59 122.7,330.58 123.55,330.29 124.4,330.53 125.25,329.74 126.1,329.13 126.97,329.88 127.85,331.04 128.72,330.48 129.6,331.17 130.59,331.77 131.57,331.27 132.56,330.65 133.54,330.86 134.53,330.77 135.51,330.16 136.5,330.42 137.49,330.28 138.47,331 139.46,330.25 140.44,330.72 141.43,331.16 142.41,331.06 143.4,330.21 144.39,330.65 145.37,330.33 146.36,330.55 147.34,330.78 148.33,331.34 149.31,331.65 150.3,330.79 151.27,330.35 152.24,331 153.21,330.41 154.18,330.36 155.15,331.46 156.12,330.46 157.09,331.36 158.06,330.81 159.03,331.67 160,331.53 161,330.34 162,330.54 163,331.67 164,331.17 165,330.88 166,331.42 167,331.47 168,330.99 169,330.95 170,330.4 171,330.79 172,330.47 173,331.19 174,331.16 175,330.47 176,331.19 177,330.4 178,330.41 179,331.22 180,330.94 181,331.6 182,331.19 183,331.3 184,330.44 185,331.5 186,330.38 187,331.18 188,331.62 189,331.61 190,331.59 191,330.93 192,331.29 193,331.44 194,330.46 195,331.67 196,331.61 197,330.91 198,331.42 199,330.92 200,330.66 201,331.31 202,330.33 203,331.43 204,331.69 205,330.65 206,331.62 207,330.33 208,331.48 209,330.61 210,331.63 211,330.82 212,331.55 213,330.21 214,330.29 215,331.37 216,331.1 217,330.94 218,330.18 219,330.38 220,330.67 221,330.19 222,331.59 223,331.24 224,331.51 225,331.13 226,330.59 227,330.19 228,331.16 229,330.23 230,330.87 231,330.74 232,330.78 233,330.14 234,330.13 235,330.8 236,330.06 237,330.79 238,330.22 239,330.41 240,330.21 241,330.83 242,330.55 243,330.3 244,330.29 245,330.8 246,331.31 247,330.57 248,330.17 249,330.4 250,330.28 251,330.77 252,331.08 253,330.75 254,330.17 255,330.37 256,330.45 257,330.53 258,330.46 259,331.35 260,330.68 260.98,330.86 261.96,330.95 262.94,330.86 263.93,331.11 264.91,330.47 265.89,330.92 266.87,331.4 267.85,330.2 268.83,330.9 269.81,330.55 270.79,330.08 271.77,330.06 272.76,331.15 273.74,330.2 274.72,331.1 275.7,330.2 276.69,330.6 277.67,330.1 278.66,330.86 279.64,331.23 280.63,330.39 281.61,330.9 282.6,331.43 283.59,330.49 284.57,330.76 285.56,331.14 286.54,331.35 287.53,330.3 288.51,331.04 289.5,330.23 290.49,330.22 291.47,331.52 292.46,330.13 293.44,331.43 294.43,331.18 295.41,331.06 296.4,331.14 297.44,330.98 298.47,330.38 299.51,330.57 300.55,330.15 301.59,331.09 302.62,330.92 303.66,330.88 304.7,329.97 305.48,329.76 306.25,328.48 307.02,328.51 307.8,327.67 308.27,327.01 308.73,325.55 309.2,324.48 309.35,323.67 309.51,321.7 309.66,321.51 309.82,319.72 309.97,319.27 310.13,317.95 310.28,318.25 310.44,315.93 310.59,316.32 310.75,315.42 310.9,313.7 311.18,313.27 311.47,311.06 311.75,310.16 312.03,308.93 312.32,307.99 312.6,306.85 313.2,307.26 313.8,305.31 314.4,305.24 314.97,305.66 315.53,306.35 316.1,307.68 316.4,308.24 316.7,310.36 317,310.39 317.3,311.63 317.6,312.51 317.9,313.52 318.2,314.23 318.5,314.83 318.8,315.56 319.2,317.54 319.6,317.35 320,318.59 320.4,319.99 320.8,320.5 321.2,321.91 321.6,322.56 322.19,322.85 322.77,322.99 323.36,324.42 323.94,324.97 324.53,326.29 325.11,326.52 325.7,327.49 326.63,328.2 327.57,328.22 328.5,329.31 329.43,329.93 330.37,329.35 331.3,331.03 332.12,331.33 332.94,331.69 333.76,331.3 334.58,331.55 335.4,331.75 336.38,332.12 337.37,332.86 338.35,332.14 339.34,331.62 340.32,332.09 341.3,331.77 342.29,332.6 343.27,332.83 344.26,333.08 345.24,331.84 346.22,332.3 347.21,331.93 348.19,333.12 349.18,333.03 350.16,332.57 351.14,333.24 352.13,332.6 353.11,333 354.1,332.59 355.08,332.42 356.06,333.38 357.05,333.16 358.03,332.81 359.02,333.23 360,332.92 360.99,333.08 361.97,331.91 362.96,331.93 363.94,331.83 364.93,332.5 365.91,332.6 366.9,331.68 367.89,332.14 368.87,331.48 369.86,332.27 370.84,332.33 371.83,331.22 372.81,332.49 373.8,331.95 374.79,331.08 375.77,331.36 376.76,331.02 377.74,331.81 378.73,332.04 379.71,330.87 380.7,330.83 381.05,330.64 381.4,330.14 381.75,329.11 382.1,327.84 382.45,326.47 382.8,326.37 383.68,325.86 384.55,326.11 385.43,325.48 386.3,325.45 386.75,324.89 387.2,323.46 387.65,322.97 388.1,321.09 388.55,319.77 389,320.17 389.7,318.02 390.4,318.59 391.1,316.91 391.8,315.44 392.72,315.31 393.63,315.53 394.55,314.58 395.47,314.49 396.38,313.25 397.3,313.9 398.23,313.41 399.17,314.3 400.1,313.47 400.62,315.04 401.15,315.53 401.68,316.22 402.2,316.43 402.73,317.99 403.25,319.23 403.78,318.92 404.3,320.22 404.98,320.37 405.67,322.64 406.35,323.4 407.03,323.77 407.72,324.27 408.4,324.46 409.32,325 410.23,326.34 411.15,326.94 412.07,327.7 412.98,327.98 413.9,327.81 414.92,327.88 415.93,328.66 416.95,328.72 417.97,329.37 418.98,330.23 420,329.93 420.94,330.84 421.89,330.56 422.83,329.66 423.77,330.83 424.71,330.81 425.66,330.87 426.6,330.05 427.57,331.41 428.55,330.88 429.52,330.99 430.49,330.49 431.46,330.33 432.44,330.34 433.41,330.68 434.38,330.87 435.35,330.69 436.33,330.59 437.3,331.64 438.25,331.68 439.2,332.02 440.15,331.1 441.1,331.94 442.05,331.82 443,331.14 443.95,332.39 444.9,331.69 445.91,331.48 446.92,331.52 447.94,332.69 448.95,331.68 449.96,331.98 450.98,332.27 451.99,332.04 453,332.3" fill="none" stroke="#2ca02c" stroke-width="1.5" stroke-linejoin="round" stroke-linecap="square"/>
</g>
<rect x="43.3" y="1.5" width="409.7" height="77" fill="none" stroke="#000" stroke-width="1.0"/>
<line x1="43.3" y1="78.5" x2="43.3" y2="82" stroke="#000" stroke-width="0.7"/>
<line x1="125.24" y1="78.5" x2="125.24" y2="82" stroke="#000" stroke-width="0.7"/>
<line x1="207.18" y1="78.5" x2="207.18" y2="82" stroke="#000" stroke-width="0.7"/>
<line x1="289.12" y1="78.5" x2="289.12" y2="82" stroke="#000" stroke-width="0.7"/>
<line x1="371.06" y1="78.5" x2="371.06" y2="82" stroke="#000" stroke-width="0.7"/>
<line x1="453" y1="78.5" x2="453" y2="82" stroke="#000" stroke-width="0.7"/>
<rect x="43.3" y="86.5" width="409.7" height="77" fill="none" stroke="#000" stroke-width="1.0"/>
<line x1="43.3" y1="163.5" x2="43.3" y2="167" stroke="#000" stroke-width="0.7"/>
<line x1="125.24" y1="163.5" x2="125.24" y2="167" stroke="#000" stroke-width="0.7"/>
<line x1="207.18" y1="163.5" x2="207.18" y2="167" stroke="#000" stroke-width="0.7"/>
<line x1="289.12" y1="163.5" x2="289.12" y2="167" stroke="#000" stroke-width="0.7"/>
<line x1="371.06" y1="163.5" x2="371.06" y2="167" stroke="#000" stroke-width="0.7"/>
<line x1="453" y1="163.5" x2="453" y2="167" stroke="#000" stroke-width="0.7"/>
<rect x="43.3" y="171.5" width="409.7" height="77" fill="none" stroke="#000" stroke-width="1.0"/>
<line x1="43.3" y1="248.5" x2="43.3" y2="252" stroke="#000" stroke-width="0.7"/>
<line x1="125.24" y1="248.5" x2="125.24" y2="252" stroke="#000" stroke-width="0.7"/>
<line x1="207.18" y1="248.5" x2="207.18" y2="252" stroke="#000" stroke-width="0.7"/>
<line x1="289.12" y1="248.5" x2="289.12" y2="252" stroke="#000" stroke-width="0.7"/>
<line x1="371.06" y1="248.5" x2="371.06" y2="252" stroke="#000" stroke-width="0.7"/>
<line x1="453" y1="248.5" x2="453" y2="252" stroke="#000" stroke-width="0.7"/>
<rect x="43.3" y="256" width="409.7" height="77.4" fill="none" stroke="#000" stroke-width="1.0"/>
<line x1="43.3" y1="333.4" x2="43.3" y2="336.9" stroke="#000" stroke-width="0.7"/>
<line x1="125.24" y1="333.4" x2="125.24" y2="336.9" stroke="#000" stroke-width="0.7"/>
<line x1="207.18" y1="333.4" x2="207.18" y2="336.9" stroke="#000" stroke-width="0.7"/>
<line x1="289.12" y1="333.4" x2="289.12" y2="336.9" stroke="#000" stroke-width="0.7"/>
<line x1="371.06" y1="333.4" x2="371.06" y2="336.9" stroke="#000" stroke-width="0.7"/>
<line x1="453" y1="333.4" x2="453" y2="336.9" stroke="#000" stroke-width="0.7"/>
<line x1="39.8" y1="78.5" x2="43.3" y2="78.5" stroke="#000" stroke-width="0.7"/>
<text x="30.3" y="82.24" font-size="10" textLength="7.02" lengthAdjust="spacingAndGlyphs">0</text>
<line x1="39.8" y1="41.83" x2="43.3" y2="41.83" stroke="#000" stroke-width="0.7"/>
<text x="16.07" y="45.57" font-size="10" textLength="21.26" lengthAdjust="spacingAndGlyphs">100</text>
<line x1="39.8" y1="5.17" x2="43.3" y2="5.17" stroke="#000" stroke-width="0.7"/>
<text x="16.07" y="8.91" font-size="10" textLength="21.25" lengthAdjust="spacingAndGlyphs">200</text>
<line x1="39.8" y1="163.5" x2="43.3" y2="163.5" stroke="#000" stroke-width="0.7"/>
<text x="30.3" y="167.24" font-size="10" textLength="7.02" lengthAdjust="spacingAndGlyphs">0</text>
<line x1="39.8" y1="131.42" x2="43.3" y2="131.42" stroke="#000" stroke-width="0.7"/>
<text x="23.42" y="135.16" font-size="10" textLength="13.9" lengthAdjust="spacingAndGlyphs">50</text>
<line x1="39.8" y1="99.33" x2="43.3" y2="99.33" stroke="#000" stroke-width="0.7"/>
<text x="16.07" y="103.07" font-size="10" textLength="21.26" lengthAdjust="spacingAndGlyphs">100</text>
<line x1="39.8" y1="248.5" x2="43.3" y2="248.5" stroke="#000" stroke-width="0.7"/>
<text x="19.22" y="252.24" font-size="10" textLength="17.93" lengthAdjust="spacingAndGlyphs">0.5</text>
<line x1="39.8" y1="210" x2="43.3" y2="210" stroke="#000" stroke-width="0.7"/>
<text x="19.05" y="213.74" font-size="10" textLength="18.23" lengthAdjust="spacingAndGlyphs">0.6</text>
<line x1="39.8" y1="171.5" x2="43.3" y2="171.5" stroke="#000" stroke-width="0.7"/>
<text x="19.32" y="175.24" font-size="10" textLength="18.05" lengthAdjust="spacingAndGlyphs">0.7</text>
<line x1="39.8" y1="333.4" x2="43.3" y2="333.4" stroke="#000" stroke-width="0.7"/>
<text x="30.3" y="337.14" font-size="10" textLength="7.02" lengthAdjust="spacingAndGlyphs">0</text>
<line x1="39.8" y1="302.44" x2="43.3" y2="302.44" stroke="#000" stroke-width="0.7"/>
<text x="31.16" y="306.18" font-size="10" textLength="6.08" lengthAdjust="spacingAndGlyphs">2</text>
<line x1="39.8" y1="271.48" x2="43.3" y2="271.48" stroke="#000" stroke-width="0.7"/>
<text x="30.58" y="275.22" font-size="10" textLength="6.28" lengthAdjust="spacingAndGlyphs">4</text>
<text x="29.21" y="346.44" font-size="10" textLength="28.57" lengthAdjust="spacingAndGlyphs">1120</text>
<text x="111.15" y="346.44" font-size="10" textLength="28.57" lengthAdjust="spacingAndGlyphs">1180</text>
<text x="193.09" y="346.44" font-size="10" textLength="28.57" lengthAdjust="spacingAndGlyphs">1240</text>
<text x="275.03" y="346.44" font-size="10" textLength="28.57" lengthAdjust="spacingAndGlyphs">1300</text>
<text x="356.97" y="346.44" font-size="10" textLength="28.57" lengthAdjust="spacingAndGlyphs">1360</text>
<text x="438.91" y="346.44" font-size="10" textLength="28.57" lengthAdjust="spacingAndGlyphs">1420</text>
<text x="230.47" y="359.2" font-size="10" textLength="3.79" lengthAdjust="spacingAndGlyphs" font-style="italic">t</text>
<rect x="169.8" y="6.6" width="277.9" height="18.8" rx="2.2" ry="2.2" fill="#fff" fill-opacity="0.8" stroke="#d6d6d6" stroke-width="0.9"/>
<line x1="173.5" y1="15.4" x2="196.2" y2="15.4" stroke="#1f77b4" stroke-width="1.5"/>
<text x="204.32" y="18.74" font-size="10" textLength="44.46" lengthAdjust="spacingAndGlyphs">#14592</text>
<line x1="270.3" y1="15.4" x2="293" y2="15.4" stroke="#ff7f0e" stroke-width="1.5"/>
<text x="301.12" y="18.74" font-size="10" textLength="44.34" lengthAdjust="spacingAndGlyphs">#14598</text>
<line x1="367.4" y1="15.4" x2="390.1" y2="15.4" stroke="#2ca02c" stroke-width="1.5"/>
<text x="398.62" y="18.74" font-size="10" textLength="44.42" lengthAdjust="spacingAndGlyphs">#14599</text>
<text x="239.65" y="358.6" font-size="9.2" textLength="3.55" lengthAdjust="spacingAndGlyphs">[</text>
<text x="244.18" y="359.2" font-size="10" textLength="16.43" lengthAdjust="spacingAndGlyphs">ms</text>
<text x="261.5" y="358.6" font-size="9.2" textLength="3.55" lengthAdjust="spacingAndGlyphs">]</text>
<text transform="translate(8.9,0) rotate(-90)" x="-58.96" y="0" font-size="10" textLength="3.31" lengthAdjust="spacingAndGlyphs" font-style="italic">I</text>
<text transform="translate(10.6,0) rotate(-90)" x="-54.69" y="0" font-size="7.3" textLength="4.37" lengthAdjust="spacingAndGlyphs" font-style="italic">p</text>
<text transform="translate(8.2,0) rotate(-90)" x="-45.05" y="0" font-size="9.2" textLength="3.58" lengthAdjust="spacingAndGlyphs">[</text>
<text transform="translate(8.8,0) rotate(-90)" x="-40.54" y="0" font-size="10" textLength="14.8" lengthAdjust="spacingAndGlyphs">kA</text>
<text transform="translate(8.2,0) rotate(-90)" x="-25.12" y="0" font-size="9.2" textLength="3.58" lengthAdjust="spacingAndGlyphs">]</text>
<text transform="translate(10.5,0) rotate(-90)" x="-147.92" y="0" font-size="10" textLength="7.14" lengthAdjust="spacingAndGlyphs" font-style="italic">B</text>
<text transform="translate(12,0) rotate(-90)" x="-139.5" y="0" font-size="7.3" textLength="5.21" lengthAdjust="spacingAndGlyphs" font-style="italic">V</text>
<text transform="translate(9.5,0) rotate(-90)" x="-129.46" y="0" font-size="9.2" textLength="3.63" lengthAdjust="spacingAndGlyphs">[</text>
<text transform="translate(10.1,0) rotate(-90)" x="-124.86" y="0" font-size="10" textLength="17.79" lengthAdjust="spacingAndGlyphs">mT</text>
<text transform="translate(9.5,0) rotate(-90)" x="-106.27" y="0" font-size="9.2" textLength="3.63" lengthAdjust="spacingAndGlyphs">]</text>
<text transform="translate(13.9,0) rotate(-90)" x="-228.31" y="0" font-size="10" textLength="6.62" lengthAdjust="spacingAndGlyphs" font-style="italic">R</text>
<text transform="translate(15.6,0) rotate(-90)" x="-220.43" y="0" font-size="7.3" textLength="3.98" lengthAdjust="spacingAndGlyphs">0</text>
<text transform="translate(13.3,0) rotate(-90)" x="-211.06" y="0" font-size="9.2" textLength="3.6" lengthAdjust="spacingAndGlyphs">[</text>
<text transform="translate(13.9,0) rotate(-90)" x="-206.48" y="0" font-size="10" textLength="10.36" lengthAdjust="spacingAndGlyphs">m</text>
<text transform="translate(13.3,0) rotate(-90)" x="-195.14" y="0" font-size="9.2" textLength="3.6" lengthAdjust="spacingAndGlyphs">]</text>
<text transform="translate(23.9,0) rotate(-90)" x="-318.45" y="0" font-size="10" textLength="7.49" lengthAdjust="spacingAndGlyphs" font-style="italic">U</text>
<text transform="translate(25,0) rotate(-90)" x="-309.98" y="0" font-size="7.3" textLength="16.38" lengthAdjust="spacingAndGlyphs" font-style="italic">loop</text>
<text transform="translate(22.9,0) rotate(-90)" x="-287.65" y="0" font-size="9.2" textLength="3.55" lengthAdjust="spacingAndGlyphs">[</text>
<text transform="translate(23.5,0) rotate(-90)" x="-283.26" y="0" font-size="10" textLength="7.72" lengthAdjust="spacingAndGlyphs">V</text>
<text transform="translate(22.9,0) rotate(-90)" x="-274.7" y="0" font-size="9.2" textLength="3.55" lengthAdjust="spacingAndGlyphs">]</text>
</svg></body></html>
